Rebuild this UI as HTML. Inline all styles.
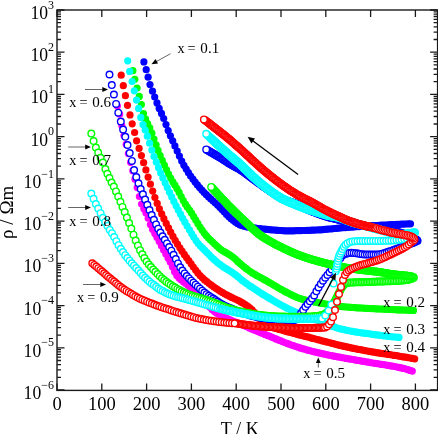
<!DOCTYPE html>
<html><head><meta charset="utf-8"><style>
html,body{margin:0;padding:0;background:#fff;width:438px;height:434px;overflow:hidden}
svg{display:block;font-family:"Liberation Serif",serif;will-change:transform}
</style></head><body>
<svg width="438" height="434" viewBox="0 0 438 434">
<rect x="57" y="10" width="380.6" height="380.4" fill="none" stroke="#1a1a1a" stroke-width="1.4"/>
<path d="M57.0 390.4v-7M57.0 10v7M101.8 390.4v-7M101.8 10v7M146.6 390.4v-7M146.6 10v7M191.4 390.4v-7M191.4 10v7M236.2 390.4v-7M236.2 10v7M281.0 390.4v-7M281.0 10v7M325.8 390.4v-7M325.8 10v7M370.6 390.4v-7M370.6 10v7M415.4 390.4v-7M415.4 10v7M57 390.0h7.5M437.6 390.0h-7.5M57 377.3h4M437.6 377.3h-4M57 369.9h4M437.6 369.9h-4M57 364.6h4M437.6 364.6h-4M57 360.5h4M437.6 360.5h-4M57 357.1h4M437.6 357.1h-4M57 354.3h4M437.6 354.3h-4M57 351.9h4M437.6 351.9h-4M57 349.7h4M437.6 349.7h-4M57 347.8h7.5M437.6 347.8h-7.5M57 335.1h4M437.6 335.1h-4M57 327.6h4M437.6 327.6h-4M57 322.4h4M437.6 322.4h-4M57 318.3h4M437.6 318.3h-4M57 314.9h4M437.6 314.9h-4M57 312.1h4M437.6 312.1h-4M57 309.6h4M437.6 309.6h-4M57 307.5h4M437.6 307.5h-4M57 305.6h7.5M437.6 305.6h-7.5M57 292.8h4M437.6 292.8h-4M57 285.4h4M437.6 285.4h-4M57 280.1h4M437.6 280.1h-4M57 276.0h4M437.6 276.0h-4M57 272.7h4M437.6 272.7h-4M57 269.9h4M437.6 269.9h-4M57 267.4h4M437.6 267.4h-4M57 265.3h4M437.6 265.3h-4M57 263.3h7.5M437.6 263.3h-7.5M57 250.6h4M437.6 250.6h-4M57 243.2h4M437.6 243.2h-4M57 237.9h4M437.6 237.9h-4M57 233.8h4M437.6 233.8h-4M57 230.5h4M437.6 230.5h-4M57 227.7h4M437.6 227.7h-4M57 225.2h4M437.6 225.2h-4M57 223.0h4M437.6 223.0h-4M57 221.1h7.5M437.6 221.1h-7.5M57 208.4h4M437.6 208.4h-4M57 201.0h4M437.6 201.0h-4M57 195.7h4M437.6 195.7h-4M57 191.6h4M437.6 191.6h-4M57 188.3h4M437.6 188.3h-4M57 185.4h4M437.6 185.4h-4M57 183.0h4M437.6 183.0h-4M57 180.8h4M437.6 180.8h-4M57 178.9h7.5M437.6 178.9h-7.5M57 166.2h4M437.6 166.2h-4M57 158.7h4M437.6 158.7h-4M57 153.5h4M437.6 153.5h-4M57 149.4h4M437.6 149.4h-4M57 146.0h4M437.6 146.0h-4M57 143.2h4M437.6 143.2h-4M57 140.8h4M437.6 140.8h-4M57 138.6h4M437.6 138.6h-4M57 136.7h7.5M437.6 136.7h-7.5M57 124.0h4M437.6 124.0h-4M57 116.5h4M437.6 116.5h-4M57 111.2h4M437.6 111.2h-4M57 107.2h4M437.6 107.2h-4M57 103.8h4M437.6 103.8h-4M57 101.0h4M437.6 101.0h-4M57 98.5h4M437.6 98.5h-4M57 96.4h4M437.6 96.4h-4M57 94.4h7.5M437.6 94.4h-7.5M57 81.7h4M437.6 81.7h-4M57 74.3h4M437.6 74.3h-4M57 69.0h4M437.6 69.0h-4M57 64.9h4M437.6 64.9h-4M57 61.6h4M437.6 61.6h-4M57 58.8h4M437.6 58.8h-4M57 56.3h4M437.6 56.3h-4M57 54.2h4M437.6 54.2h-4M57 52.2h7.5M437.6 52.2h-7.5M57 39.5h4M437.6 39.5h-4M57 32.1h4M437.6 32.1h-4M57 26.8h4M437.6 26.8h-4M57 22.7h4M437.6 22.7h-4M57 19.4h4M437.6 19.4h-4M57 16.5h4M437.6 16.5h-4M57 14.1h4M437.6 14.1h-4M57 11.9h4M437.6 11.9h-4M57 10.0h7.5M437.6 10.0h-7.5" stroke="#1a1a1a" stroke-width="1.3" fill="none"/>
<g font-size="18.5"><text x="54" y="399.0" text-anchor="end"><tspan font-size="18.3" textLength="17.6" lengthAdjust="spacingAndGlyphs">10</tspan><tspan dy="-10.4" font-size="12">−6</tspan></text><text x="54" y="356.8" text-anchor="end"><tspan font-size="18.3" textLength="17.6" lengthAdjust="spacingAndGlyphs">10</tspan><tspan dy="-10.4" font-size="12">−5</tspan></text><text x="54" y="314.6" text-anchor="end"><tspan font-size="18.3" textLength="17.6" lengthAdjust="spacingAndGlyphs">10</tspan><tspan dy="-10.4" font-size="12">−4</tspan></text><text x="54" y="272.3" text-anchor="end"><tspan font-size="18.3" textLength="17.6" lengthAdjust="spacingAndGlyphs">10</tspan><tspan dy="-10.4" font-size="12">−3</tspan></text><text x="54" y="230.1" text-anchor="end"><tspan font-size="18.3" textLength="17.6" lengthAdjust="spacingAndGlyphs">10</tspan><tspan dy="-10.4" font-size="12">−2</tspan></text><text x="54" y="187.9" text-anchor="end"><tspan font-size="18.3" textLength="17.6" lengthAdjust="spacingAndGlyphs">10</tspan><tspan dy="-10.4" font-size="12">−1</tspan></text><text x="54" y="145.7" text-anchor="end"><tspan font-size="18.3" textLength="17.6" lengthAdjust="spacingAndGlyphs">10</tspan><tspan dy="-10.4" font-size="12">0</tspan></text><text x="54" y="103.4" text-anchor="end"><tspan font-size="18.3" textLength="17.6" lengthAdjust="spacingAndGlyphs">10</tspan><tspan dy="-10.4" font-size="12">1</tspan></text><text x="54" y="61.2" text-anchor="end"><tspan font-size="18.3" textLength="17.6" lengthAdjust="spacingAndGlyphs">10</tspan><tspan dy="-10.4" font-size="12">2</tspan></text><text x="54" y="19.0" text-anchor="end"><tspan font-size="18.3" textLength="17.6" lengthAdjust="spacingAndGlyphs">10</tspan><tspan dy="-10.4" font-size="12">3</tspan></text><text x="57.0" y="409.7" text-anchor="middle">0</text><text x="101.8" y="409.7" text-anchor="middle">100</text><text x="146.6" y="409.7" text-anchor="middle">200</text><text x="191.4" y="409.7" text-anchor="middle">300</text><text x="236.2" y="409.7" text-anchor="middle">400</text><text x="281.0" y="409.7" text-anchor="middle">500</text><text x="325.8" y="409.7" text-anchor="middle">600</text><text x="370.6" y="409.7" text-anchor="middle">700</text><text x="415.4" y="409.7" text-anchor="middle">800</text></g>
<text x="239.8" y="434.6" text-anchor="middle" font-size="18.2">T / K</text>
<text transform="translate(12.6 212.3) rotate(-90)" text-anchor="middle" font-size="19">ρ / Ωm</text>
<g fill="#0000ff"><circle cx="143.9" cy="61.9" r="3.6"/><circle cx="146.2" cy="69.7" r="3.6"/><circle cx="148.1" cy="77.2" r="3.6"/><circle cx="150.0" cy="84.6" r="3.6"/><circle cx="152.5" cy="91.2" r="3.6"/><circle cx="154.7" cy="97.0" r="3.6"/><circle cx="157.0" cy="102.9" r="3.6"/><circle cx="159.2" cy="108.4" r="3.6"/><circle cx="161.5" cy="113.4" r="3.6"/><circle cx="163.7" cy="118.5" r="3.6"/><circle cx="166.0" cy="124.6" r="3.6"/><circle cx="168.2" cy="130.6" r="3.6"/><circle cx="170.4" cy="135.8" r="3.6"/><circle cx="172.7" cy="140.8" r="3.6"/><circle cx="174.9" cy="145.9" r="3.6"/><circle cx="177.2" cy="151.0" r="3.6"/><circle cx="179.4" cy="156.1" r="3.6"/><circle cx="181.7" cy="161.1" r="3.6"/><circle cx="183.9" cy="165.3" r="3.6"/><circle cx="186.2" cy="169.1" r="3.6"/><circle cx="188.4" cy="172.7" r="3.6"/><circle cx="190.6" cy="176.0" r="3.6"/><circle cx="192.9" cy="179.1" r="3.6"/><circle cx="195.1" cy="182.1" r="3.6"/><circle cx="197.4" cy="184.9" r="3.6"/><circle cx="199.6" cy="187.6" r="3.6"/><circle cx="201.9" cy="190.1" r="3.6"/><circle cx="204.1" cy="192.5" r="3.6"/><circle cx="206.3" cy="194.7" r="3.6"/><circle cx="208.6" cy="196.9" r="3.6"/><circle cx="210.8" cy="198.9" r="3.6"/><circle cx="213.1" cy="201.0" r="3.6"/><circle cx="215.3" cy="203.0" r="3.6"/><circle cx="217.6" cy="205.1" r="3.6"/><circle cx="219.8" cy="207.3" r="3.6"/><circle cx="222.0" cy="209.6" r="3.6"/><circle cx="224.3" cy="212.0" r="3.6"/><circle cx="226.5" cy="214.4" r="3.6"/><circle cx="228.8" cy="216.7" r="3.6"/><circle cx="231.0" cy="218.7" r="3.6"/><circle cx="233.3" cy="220.5" r="3.6"/><circle cx="235.5" cy="222.2" r="3.6"/><circle cx="237.8" cy="223.7" r="3.6"/><circle cx="240.0" cy="224.9" r="3.6"/><circle cx="242.2" cy="225.7" r="3.6"/><circle cx="244.5" cy="226.3" r="3.6"/><circle cx="246.7" cy="226.8" r="3.6"/><circle cx="249.0" cy="227.2" r="3.6"/><circle cx="251.2" cy="227.6" r="3.6"/><circle cx="253.5" cy="227.9" r="3.6"/><circle cx="255.7" cy="228.2" r="3.6"/><circle cx="257.9" cy="228.5" r="3.6"/><circle cx="260.2" cy="228.7" r="3.6"/><circle cx="262.4" cy="229.0" r="3.6"/><circle cx="264.7" cy="229.2" r="3.6"/><circle cx="266.9" cy="229.4" r="3.6"/><circle cx="269.2" cy="229.6" r="3.6"/><circle cx="271.4" cy="229.8" r="3.6"/><circle cx="273.6" cy="230.0" r="3.6"/><circle cx="275.9" cy="230.2" r="3.6"/><circle cx="278.1" cy="230.4" r="3.6"/><circle cx="280.4" cy="230.5" r="3.6"/><circle cx="282.6" cy="230.7" r="3.6"/><circle cx="284.9" cy="230.8" r="3.6"/><circle cx="287.1" cy="230.8" r="3.6"/><circle cx="289.4" cy="230.8" r="3.6"/><circle cx="291.6" cy="230.8" r="3.6"/><circle cx="293.8" cy="230.8" r="3.6"/><circle cx="296.1" cy="230.7" r="3.6"/><circle cx="298.3" cy="230.7" r="3.6"/><circle cx="300.6" cy="230.6" r="3.6"/><circle cx="302.8" cy="230.5" r="3.6"/><circle cx="305.1" cy="230.5" r="3.6"/><circle cx="307.3" cy="230.4" r="3.6"/><circle cx="309.5" cy="230.3" r="3.6"/><circle cx="311.8" cy="230.2" r="3.6"/><circle cx="314.0" cy="230.1" r="3.6"/><circle cx="316.3" cy="230.0" r="3.6"/><circle cx="318.5" cy="229.9" r="3.6"/><circle cx="320.8" cy="229.8" r="3.6"/><circle cx="323.0" cy="229.6" r="3.6"/><circle cx="325.2" cy="229.4" r="3.6"/><circle cx="327.5" cy="229.2" r="3.6"/><circle cx="329.7" cy="229.0" r="3.6"/><circle cx="332.0" cy="228.8" r="3.6"/><circle cx="334.2" cy="228.5" r="3.6"/><circle cx="336.5" cy="228.3" r="3.6"/><circle cx="338.7" cy="228.1" r="3.6"/><circle cx="341.0" cy="227.9" r="3.6"/><circle cx="343.2" cy="227.7" r="3.6"/><circle cx="345.4" cy="227.6" r="3.6"/><circle cx="347.7" cy="227.4" r="3.6"/><circle cx="349.9" cy="227.2" r="3.6"/><circle cx="352.2" cy="227.1" r="3.6"/><circle cx="354.4" cy="226.9" r="3.6"/><circle cx="356.7" cy="226.7" r="3.6"/><circle cx="358.9" cy="226.6" r="3.6"/><circle cx="361.1" cy="226.4" r="3.6"/><circle cx="363.4" cy="226.3" r="3.6"/><circle cx="365.6" cy="226.1" r="3.6"/><circle cx="367.9" cy="226.0" r="3.6"/><circle cx="370.1" cy="225.9" r="3.6"/><circle cx="372.4" cy="225.7" r="3.6"/><circle cx="374.6" cy="225.6" r="3.6"/><circle cx="376.8" cy="225.5" r="3.6"/><circle cx="379.1" cy="225.3" r="3.6"/><circle cx="381.3" cy="225.2" r="3.6"/><circle cx="383.6" cy="225.1" r="3.6"/><circle cx="385.8" cy="225.0" r="3.6"/><circle cx="388.1" cy="224.8" r="3.6"/><circle cx="390.3" cy="224.7" r="3.6"/><circle cx="392.6" cy="224.6" r="3.6"/><circle cx="394.8" cy="224.5" r="3.6"/><circle cx="397.0" cy="224.4" r="3.6"/><circle cx="399.3" cy="224.3" r="3.6"/><circle cx="401.5" cy="224.2" r="3.6"/><circle cx="403.8" cy="224.1" r="3.6"/><circle cx="406.0" cy="224.0" r="3.6"/><circle cx="408.3" cy="223.9" r="3.6"/><circle cx="410.5" cy="223.8" r="3.6"/></g>
<g fill="#00ff00"><circle cx="132.9" cy="70.7" r="3.6"/><circle cx="134.8" cy="79.3" r="3.6"/><circle cx="137.1" cy="88.0" r="3.6"/><circle cx="139.3" cy="96.4" r="3.6"/><circle cx="141.4" cy="104.5" r="3.6"/><circle cx="143.5" cy="113.5" r="3.6"/><circle cx="145.6" cy="119.1" r="3.6"/><circle cx="147.7" cy="123.5" r="3.6"/><circle cx="149.8" cy="127.9" r="3.6"/><circle cx="151.9" cy="133.2" r="3.6"/><circle cx="154.0" cy="139.0" r="3.6"/><circle cx="156.1" cy="144.9" r="3.6"/><circle cx="158.1" cy="150.4" r="3.6"/><circle cx="160.2" cy="155.5" r="3.6"/><circle cx="162.3" cy="160.4" r="3.6"/><circle cx="164.4" cy="165.2" r="3.6"/><circle cx="166.5" cy="169.8" r="3.6"/><circle cx="168.6" cy="174.1" r="3.6"/><circle cx="170.7" cy="178.1" r="3.6"/><circle cx="172.8" cy="181.8" r="3.6"/><circle cx="174.9" cy="185.2" r="3.6"/><circle cx="177.0" cy="188.7" r="3.6"/><circle cx="179.1" cy="192.4" r="3.6"/><circle cx="181.2" cy="196.5" r="3.6"/><circle cx="183.3" cy="200.6" r="3.6"/><circle cx="185.4" cy="204.2" r="3.6"/><circle cx="187.4" cy="207.2" r="3.6"/><circle cx="189.5" cy="210.0" r="3.6"/><circle cx="191.6" cy="213.2" r="3.6"/><circle cx="193.7" cy="216.7" r="3.6"/><circle cx="195.8" cy="220.2" r="3.6"/><circle cx="197.9" cy="223.7" r="3.6"/><circle cx="200.0" cy="227.0" r="3.6"/><circle cx="202.1" cy="230.1" r="3.6"/><circle cx="204.2" cy="233.1" r="3.6"/><circle cx="206.3" cy="235.7" r="3.6"/><circle cx="208.4" cy="238.0" r="3.6"/><circle cx="210.5" cy="240.0" r="3.6"/><circle cx="212.6" cy="242.0" r="3.6"/><circle cx="214.7" cy="244.0" r="3.6"/><circle cx="216.8" cy="246.0" r="3.6"/><circle cx="218.8" cy="247.8" r="3.6"/><circle cx="220.9" cy="249.5" r="3.6"/><circle cx="223.0" cy="251.0" r="3.6"/><circle cx="225.1" cy="252.2" r="3.6"/><circle cx="227.2" cy="253.3" r="3.6"/><circle cx="229.3" cy="254.6" r="3.6"/><circle cx="231.4" cy="256.0" r="3.6"/><circle cx="233.5" cy="257.5" r="3.6"/><circle cx="235.6" cy="259.3" r="3.6"/><circle cx="237.7" cy="261.4" r="3.6"/><circle cx="239.8" cy="263.3" r="3.6"/><circle cx="241.9" cy="265.1" r="3.6"/><circle cx="244.0" cy="266.8" r="3.6"/><circle cx="246.1" cy="268.4" r="3.6"/><circle cx="248.1" cy="270.0" r="3.6"/><circle cx="250.2" cy="271.5" r="3.6"/><circle cx="252.3" cy="272.9" r="3.6"/><circle cx="254.4" cy="274.1" r="3.6"/><circle cx="256.5" cy="275.4" r="3.6"/><circle cx="258.6" cy="276.5" r="3.6"/><circle cx="260.7" cy="277.7" r="3.6"/><circle cx="262.8" cy="278.8" r="3.6"/><circle cx="264.9" cy="279.9" r="3.6"/><circle cx="267.0" cy="281.1" r="3.6"/><circle cx="269.1" cy="282.3" r="3.6"/><circle cx="271.2" cy="283.5" r="3.6"/><circle cx="273.3" cy="284.8" r="3.6"/><circle cx="275.4" cy="286.0" r="3.6"/><circle cx="277.5" cy="287.3" r="3.6"/><circle cx="279.5" cy="288.5" r="3.6"/><circle cx="281.6" cy="289.7" r="3.6"/><circle cx="283.7" cy="290.8" r="3.6"/><circle cx="285.8" cy="291.9" r="3.6"/><circle cx="287.9" cy="293.0" r="3.6"/><circle cx="290.0" cy="294.1" r="3.6"/><circle cx="292.1" cy="295.2" r="3.6"/><circle cx="294.2" cy="296.2" r="3.6"/><circle cx="296.3" cy="297.1" r="3.6"/><circle cx="298.4" cy="298.0" r="3.6"/><circle cx="300.5" cy="298.6" r="3.6"/><circle cx="302.6" cy="299.3" r="3.6"/><circle cx="304.7" cy="299.8" r="3.6"/><circle cx="306.8" cy="300.3" r="3.6"/><circle cx="308.8" cy="300.8" r="3.6"/><circle cx="310.9" cy="301.3" r="3.6"/><circle cx="313.0" cy="301.7" r="3.6"/><circle cx="315.1" cy="302.1" r="3.6"/><circle cx="317.2" cy="302.5" r="3.6"/><circle cx="319.3" cy="302.9" r="3.6"/><circle cx="321.4" cy="303.3" r="3.6"/><circle cx="323.5" cy="303.7" r="3.6"/><circle cx="325.6" cy="304.0" r="3.6"/><circle cx="327.7" cy="304.4" r="3.6"/><circle cx="329.8" cy="304.8" r="3.6"/><circle cx="331.9" cy="305.1" r="3.6"/><circle cx="334.0" cy="305.5" r="3.6"/><circle cx="336.1" cy="305.8" r="3.6"/><circle cx="338.1" cy="306.1" r="3.6"/><circle cx="340.2" cy="306.4" r="3.6"/><circle cx="342.3" cy="306.6" r="3.6"/><circle cx="344.4" cy="306.8" r="3.6"/><circle cx="346.5" cy="307.0" r="3.6"/><circle cx="348.6" cy="307.2" r="3.6"/><circle cx="350.7" cy="307.4" r="3.6"/><circle cx="352.8" cy="307.5" r="3.6"/><circle cx="354.9" cy="307.7" r="3.6"/><circle cx="357.0" cy="307.8" r="3.6"/><circle cx="359.1" cy="307.9" r="3.6"/><circle cx="361.2" cy="308.0" r="3.6"/><circle cx="363.3" cy="308.2" r="3.6"/><circle cx="365.4" cy="308.3" r="3.6"/><circle cx="367.5" cy="308.4" r="3.6"/><circle cx="369.5" cy="308.5" r="3.6"/><circle cx="371.6" cy="308.6" r="3.6"/><circle cx="373.7" cy="308.7" r="3.6"/><circle cx="375.8" cy="308.8" r="3.6"/><circle cx="377.9" cy="308.9" r="3.6"/><circle cx="380.0" cy="309.0" r="3.6"/><circle cx="382.1" cy="309.1" r="3.6"/><circle cx="384.2" cy="309.2" r="3.6"/><circle cx="386.3" cy="309.3" r="3.6"/><circle cx="388.4" cy="309.4" r="3.6"/><circle cx="390.5" cy="309.5" r="3.6"/><circle cx="392.6" cy="309.6" r="3.6"/><circle cx="394.7" cy="309.7" r="3.6"/><circle cx="396.8" cy="309.8" r="3.6"/><circle cx="398.8" cy="309.9" r="3.6"/><circle cx="400.9" cy="309.9" r="3.6"/><circle cx="403.0" cy="310.0" r="3.6"/><circle cx="405.1" cy="310.1" r="3.6"/><circle cx="407.2" cy="310.2" r="3.6"/><circle cx="409.3" cy="310.3" r="3.6"/><circle cx="411.4" cy="310.3" r="3.6"/><circle cx="413.5" cy="310.4" r="3.6"/></g>
<g fill="#00ffff"><circle cx="127.7" cy="60.8" r="3.6"/><circle cx="129.7" cy="71.4" r="3.6"/><circle cx="132.1" cy="81.5" r="3.6"/><circle cx="134.3" cy="90.8" r="3.6"/><circle cx="136.5" cy="100.1" r="3.6"/><circle cx="138.6" cy="108.4" r="3.6"/><circle cx="140.8" cy="117.4" r="3.6"/><circle cx="143.0" cy="124.6" r="3.6"/><circle cx="145.2" cy="130.0" r="3.6"/><circle cx="147.4" cy="136.2" r="3.6"/><circle cx="149.6" cy="143.2" r="3.6"/><circle cx="151.8" cy="150.1" r="3.6"/><circle cx="154.0" cy="156.5" r="3.6"/><circle cx="156.3" cy="162.2" r="3.6"/><circle cx="158.5" cy="167.7" r="3.6"/><circle cx="160.7" cy="172.9" r="3.6"/><circle cx="162.9" cy="177.9" r="3.6"/><circle cx="165.1" cy="182.8" r="3.6"/><circle cx="167.3" cy="187.6" r="3.6"/><circle cx="169.5" cy="192.3" r="3.6"/><circle cx="171.7" cy="196.9" r="3.6"/><circle cx="173.9" cy="201.4" r="3.6"/><circle cx="176.1" cy="205.8" r="3.6"/><circle cx="178.3" cy="210.1" r="3.6"/><circle cx="180.5" cy="214.2" r="3.6"/><circle cx="182.7" cy="218.3" r="3.6"/><circle cx="184.9" cy="222.2" r="3.6"/><circle cx="187.1" cy="226.0" r="3.6"/><circle cx="189.4" cy="229.8" r="3.6"/><circle cx="191.6" cy="233.6" r="3.6"/><circle cx="193.8" cy="237.2" r="3.6"/><circle cx="196.0" cy="240.6" r="3.6"/><circle cx="198.2" cy="243.5" r="3.6"/><circle cx="200.4" cy="246.0" r="3.6"/><circle cx="202.6" cy="248.2" r="3.6"/><circle cx="204.8" cy="250.3" r="3.6"/><circle cx="207.0" cy="252.6" r="3.6"/><circle cx="209.2" cy="254.8" r="3.6"/><circle cx="211.4" cy="257.1" r="3.6"/><circle cx="213.6" cy="259.2" r="3.6"/><circle cx="215.8" cy="261.1" r="3.6"/><circle cx="218.0" cy="263.0" r="3.6"/><circle cx="220.3" cy="264.7" r="3.6"/><circle cx="222.5" cy="266.3" r="3.6"/><circle cx="224.7" cy="267.8" r="3.6"/><circle cx="226.9" cy="269.1" r="3.6"/><circle cx="229.1" cy="270.5" r="3.6"/><circle cx="231.3" cy="271.8" r="3.6"/><circle cx="233.5" cy="273.3" r="3.6"/><circle cx="235.7" cy="274.9" r="3.6"/><circle cx="237.9" cy="276.7" r="3.6"/><circle cx="240.1" cy="278.6" r="3.6"/><circle cx="242.3" cy="280.4" r="3.6"/><circle cx="244.5" cy="282.1" r="3.6"/><circle cx="246.7" cy="283.7" r="3.6"/><circle cx="248.9" cy="285.3" r="3.6"/><circle cx="251.1" cy="286.7" r="3.6"/><circle cx="253.4" cy="288.2" r="3.6"/><circle cx="255.6" cy="289.6" r="3.6"/><circle cx="257.8" cy="291.1" r="3.6"/><circle cx="260.0" cy="292.5" r="3.6"/><circle cx="262.2" cy="293.9" r="3.6"/><circle cx="264.4" cy="295.2" r="3.6"/><circle cx="266.6" cy="296.6" r="3.6"/><circle cx="268.8" cy="297.9" r="3.6"/><circle cx="271.0" cy="299.2" r="3.6"/><circle cx="273.2" cy="300.5" r="3.6"/><circle cx="275.4" cy="301.8" r="3.6"/><circle cx="277.6" cy="303.0" r="3.6"/><circle cx="279.8" cy="304.3" r="3.6"/><circle cx="282.0" cy="305.5" r="3.6"/><circle cx="284.2" cy="306.7" r="3.6"/><circle cx="286.5" cy="307.9" r="3.6"/><circle cx="288.7" cy="309.0" r="3.6"/><circle cx="290.9" cy="310.0" r="3.6"/><circle cx="293.1" cy="311.0" r="3.6"/><circle cx="295.3" cy="312.0" r="3.6"/><circle cx="297.5" cy="312.8" r="3.6"/><circle cx="299.7" cy="313.7" r="3.6"/><circle cx="301.9" cy="314.5" r="3.6"/><circle cx="304.1" cy="315.3" r="3.6"/><circle cx="306.3" cy="316.1" r="3.6"/><circle cx="308.5" cy="316.9" r="3.6"/><circle cx="310.7" cy="317.7" r="3.6"/><circle cx="312.9" cy="318.4" r="3.6"/><circle cx="315.1" cy="319.2" r="3.6"/><circle cx="317.3" cy="320.0" r="3.6"/><circle cx="319.6" cy="320.8" r="3.6"/><circle cx="321.8" cy="321.7" r="3.6"/><circle cx="324.0" cy="322.6" r="3.6"/><circle cx="326.2" cy="323.6" r="3.6"/><circle cx="328.4" cy="324.5" r="3.6"/><circle cx="330.6" cy="325.5" r="3.6"/><circle cx="332.8" cy="326.4" r="3.6"/><circle cx="335.0" cy="327.2" r="3.6"/><circle cx="337.2" cy="328.0" r="3.6"/><circle cx="339.4" cy="328.7" r="3.6"/><circle cx="341.6" cy="329.2" r="3.6"/><circle cx="343.8" cy="329.7" r="3.6"/><circle cx="346.0" cy="330.2" r="3.6"/><circle cx="348.2" cy="330.6" r="3.6"/><circle cx="350.5" cy="331.0" r="3.6"/><circle cx="352.7" cy="331.4" r="3.6"/><circle cx="354.9" cy="331.8" r="3.6"/><circle cx="357.1" cy="332.1" r="3.6"/><circle cx="359.3" cy="332.5" r="3.6"/><circle cx="361.5" cy="332.8" r="3.6"/><circle cx="363.7" cy="333.1" r="3.6"/><circle cx="365.9" cy="333.4" r="3.6"/><circle cx="368.1" cy="333.7" r="3.6"/><circle cx="370.3" cy="334.0" r="3.6"/><circle cx="372.5" cy="334.3" r="3.6"/><circle cx="374.7" cy="334.6" r="3.6"/><circle cx="376.9" cy="334.9" r="3.6"/><circle cx="379.1" cy="335.2" r="3.6"/><circle cx="381.3" cy="335.5" r="3.6"/><circle cx="383.6" cy="335.8" r="3.6"/><circle cx="385.8" cy="336.0" r="3.6"/><circle cx="388.0" cy="336.3" r="3.6"/><circle cx="390.2" cy="336.5" r="3.6"/><circle cx="392.4" cy="336.8" r="3.6"/><circle cx="394.6" cy="337.0" r="3.6"/><circle cx="396.8" cy="337.2" r="3.6"/><circle cx="399.0" cy="337.4" r="3.6"/></g>
<g fill="#ff0000"><circle cx="121.2" cy="75.2" r="3.6"/><circle cx="123.3" cy="85.7" r="3.6"/><circle cx="125.4" cy="95.7" r="3.6"/><circle cx="127.5" cy="105.3" r="3.6"/><circle cx="130.0" cy="114.9" r="3.6"/><circle cx="132.2" cy="123.8" r="3.6"/><circle cx="134.6" cy="132.5" r="3.6"/><circle cx="136.6" cy="140.8" r="3.6"/><circle cx="139.1" cy="148.4" r="3.6"/><circle cx="141.4" cy="155.6" r="3.6"/><circle cx="143.6" cy="162.7" r="3.6"/><circle cx="145.9" cy="169.9" r="3.6"/><circle cx="148.1" cy="177.1" r="3.6"/><circle cx="150.4" cy="184.2" r="3.6"/><circle cx="152.7" cy="191.1" r="3.6"/><circle cx="154.9" cy="197.5" r="3.6"/><circle cx="157.2" cy="203.4" r="3.6"/><circle cx="159.4" cy="208.8" r="3.6"/><circle cx="161.7" cy="213.9" r="3.6"/><circle cx="163.9" cy="218.7" r="3.6"/><circle cx="166.2" cy="223.4" r="3.6"/><circle cx="168.5" cy="227.8" r="3.6"/><circle cx="170.7" cy="232.2" r="3.6"/><circle cx="173.0" cy="236.4" r="3.6"/><circle cx="175.2" cy="240.4" r="3.6"/><circle cx="177.5" cy="244.2" r="3.6"/><circle cx="179.8" cy="247.8" r="3.6"/><circle cx="182.0" cy="251.2" r="3.6"/><circle cx="184.3" cy="254.4" r="3.6"/><circle cx="186.5" cy="257.6" r="3.6"/><circle cx="188.8" cy="260.7" r="3.6"/><circle cx="191.1" cy="263.8" r="3.6"/><circle cx="193.3" cy="267.0" r="3.6"/><circle cx="195.6" cy="270.1" r="3.6"/><circle cx="197.8" cy="272.9" r="3.6"/><circle cx="200.1" cy="275.6" r="3.6"/><circle cx="202.4" cy="277.8" r="3.6"/><circle cx="204.6" cy="279.9" r="3.6"/><circle cx="206.9" cy="281.7" r="3.6"/><circle cx="209.1" cy="283.5" r="3.6"/><circle cx="211.4" cy="285.2" r="3.6"/><circle cx="213.6" cy="286.8" r="3.6"/><circle cx="215.9" cy="288.3" r="3.6"/><circle cx="218.2" cy="289.8" r="3.6"/><circle cx="220.4" cy="291.3" r="3.6"/><circle cx="222.7" cy="292.7" r="3.6"/><circle cx="224.9" cy="294.0" r="3.6"/><circle cx="227.2" cy="295.2" r="3.6"/><circle cx="229.5" cy="296.3" r="3.6"/><circle cx="231.7" cy="297.4" r="3.6"/><circle cx="234.0" cy="298.5" r="3.6"/><circle cx="236.2" cy="299.5" r="3.6"/><circle cx="238.5" cy="300.7" r="3.6"/><circle cx="240.8" cy="301.9" r="3.6"/><circle cx="243.0" cy="303.2" r="3.6"/><circle cx="245.3" cy="304.6" r="3.6"/><circle cx="247.5" cy="306.1" r="3.6"/><circle cx="249.8" cy="307.8" r="3.6"/><circle cx="252.1" cy="309.8" r="3.6"/><circle cx="254.3" cy="312.4" r="3.6"/><circle cx="256.6" cy="315.7" r="3.6"/><circle cx="258.8" cy="318.5" r="3.6"/><circle cx="261.1" cy="321.1" r="3.6"/><circle cx="263.3" cy="323.3" r="3.6"/><circle cx="265.6" cy="324.8" r="3.6"/><circle cx="267.9" cy="325.9" r="3.6"/><circle cx="270.1" cy="326.7" r="3.6"/><circle cx="272.4" cy="327.5" r="3.6"/><circle cx="274.6" cy="328.1" r="3.6"/><circle cx="276.9" cy="328.7" r="3.6"/><circle cx="279.2" cy="329.4" r="3.6"/><circle cx="281.4" cy="330.0" r="3.6"/><circle cx="283.7" cy="330.7" r="3.6"/><circle cx="285.9" cy="331.3" r="3.6"/><circle cx="288.2" cy="331.9" r="3.6"/><circle cx="290.5" cy="332.5" r="3.6"/><circle cx="292.7" cy="333.1" r="3.6"/><circle cx="295.0" cy="333.7" r="3.6"/><circle cx="297.2" cy="334.3" r="3.6"/><circle cx="299.5" cy="334.9" r="3.6"/><circle cx="301.7" cy="335.5" r="3.6"/><circle cx="304.0" cy="336.1" r="3.6"/><circle cx="306.3" cy="336.7" r="3.6"/><circle cx="308.5" cy="337.2" r="3.6"/><circle cx="310.8" cy="337.8" r="3.6"/><circle cx="313.0" cy="338.4" r="3.6"/><circle cx="315.3" cy="339.0" r="3.6"/><circle cx="317.6" cy="339.6" r="3.6"/><circle cx="319.8" cy="340.2" r="3.6"/><circle cx="322.1" cy="340.8" r="3.6"/><circle cx="324.3" cy="341.3" r="3.6"/><circle cx="326.6" cy="341.9" r="3.6"/><circle cx="328.9" cy="342.5" r="3.6"/><circle cx="331.1" cy="343.1" r="3.6"/><circle cx="333.4" cy="343.7" r="3.6"/><circle cx="335.6" cy="344.3" r="3.6"/><circle cx="337.9" cy="344.8" r="3.6"/><circle cx="340.2" cy="345.4" r="3.6"/><circle cx="342.4" cy="345.9" r="3.6"/><circle cx="344.7" cy="346.4" r="3.6"/><circle cx="346.9" cy="346.9" r="3.6"/><circle cx="349.2" cy="347.4" r="3.6"/><circle cx="351.4" cy="347.9" r="3.6"/><circle cx="353.7" cy="348.4" r="3.6"/><circle cx="356.0" cy="348.8" r="3.6"/><circle cx="358.2" cy="349.3" r="3.6"/><circle cx="360.5" cy="349.7" r="3.6"/><circle cx="362.7" cy="350.2" r="3.6"/><circle cx="365.0" cy="350.6" r="3.6"/><circle cx="367.3" cy="351.0" r="3.6"/><circle cx="369.5" cy="351.4" r="3.6"/><circle cx="371.8" cy="351.8" r="3.6"/><circle cx="374.0" cy="352.2" r="3.6"/><circle cx="376.3" cy="352.6" r="3.6"/><circle cx="378.6" cy="352.9" r="3.6"/><circle cx="380.8" cy="353.3" r="3.6"/><circle cx="383.1" cy="353.7" r="3.6"/><circle cx="385.3" cy="354.0" r="3.6"/><circle cx="387.6" cy="354.3" r="3.6"/><circle cx="389.9" cy="354.7" r="3.6"/><circle cx="392.1" cy="355.0" r="3.6"/><circle cx="394.4" cy="355.4" r="3.6"/><circle cx="396.6" cy="355.7" r="3.6"/><circle cx="398.9" cy="356.1" r="3.6"/><circle cx="401.1" cy="356.5" r="3.6"/><circle cx="403.4" cy="356.9" r="3.6"/><circle cx="405.7" cy="357.2" r="3.6"/><circle cx="407.9" cy="357.6" r="3.6"/><circle cx="410.2" cy="358.0" r="3.6"/><circle cx="412.4" cy="358.4" r="3.6"/><circle cx="414.7" cy="358.8" r="3.6"/></g>
<g fill="#ff00ff"><circle cx="117.4" cy="106.0" r="3.6"/><circle cx="119.6" cy="114.2" r="3.6"/><circle cx="121.8" cy="125.5" r="3.6"/><circle cx="124.0" cy="135.6" r="3.6"/><circle cx="126.2" cy="144.4" r="3.6"/><circle cx="128.4" cy="153.6" r="3.6"/><circle cx="130.6" cy="162.3" r="3.6"/><circle cx="132.8" cy="170.8" r="3.6"/><circle cx="135.0" cy="179.2" r="3.6"/><circle cx="137.2" cy="187.6" r="3.6"/><circle cx="139.4" cy="196.5" r="3.6"/><circle cx="141.6" cy="204.0" r="3.6"/><circle cx="143.8" cy="208.8" r="3.6"/><circle cx="146.0" cy="212.9" r="3.6"/><circle cx="148.2" cy="218.2" r="3.6"/><circle cx="150.4" cy="224.6" r="3.6"/><circle cx="152.6" cy="229.4" r="3.6"/><circle cx="154.8" cy="233.6" r="3.6"/><circle cx="157.0" cy="237.4" r="3.6"/><circle cx="159.2" cy="241.5" r="3.6"/><circle cx="161.4" cy="245.7" r="3.6"/><circle cx="163.6" cy="249.9" r="3.6"/><circle cx="165.8" cy="254.0" r="3.6"/><circle cx="168.0" cy="257.9" r="3.6"/><circle cx="170.2" cy="261.9" r="3.6"/><circle cx="172.4" cy="266.8" r="3.6"/><circle cx="174.6" cy="271.8" r="3.6"/><circle cx="176.8" cy="275.4" r="3.6"/><circle cx="179.0" cy="277.9" r="3.6"/><circle cx="181.2" cy="280.0" r="3.6"/><circle cx="183.4" cy="281.8" r="3.6"/><circle cx="185.6" cy="283.5" r="3.6"/><circle cx="187.8" cy="285.3" r="3.6"/><circle cx="190.0" cy="287.1" r="3.6"/><circle cx="192.2" cy="288.9" r="3.6"/><circle cx="194.4" cy="290.7" r="3.6"/><circle cx="196.6" cy="292.7" r="3.6"/><circle cx="198.8" cy="294.9" r="3.6"/><circle cx="201.0" cy="297.3" r="3.6"/><circle cx="203.2" cy="299.8" r="3.6"/><circle cx="205.4" cy="302.3" r="3.6"/><circle cx="207.6" cy="304.8" r="3.6"/><circle cx="209.8" cy="307.2" r="3.6"/><circle cx="212.0" cy="309.4" r="3.6"/><circle cx="214.2" cy="311.3" r="3.6"/><circle cx="216.4" cy="312.9" r="3.6"/><circle cx="218.6" cy="314.2" r="3.6"/><circle cx="220.8" cy="315.5" r="3.6"/><circle cx="223.0" cy="316.6" r="3.6"/><circle cx="225.2" cy="317.7" r="3.6"/><circle cx="227.4" cy="318.7" r="3.6"/><circle cx="229.6" cy="319.7" r="3.6"/><circle cx="231.8" cy="320.6" r="3.6"/><circle cx="234.0" cy="321.5" r="3.6"/><circle cx="236.2" cy="322.4" r="3.6"/><circle cx="238.4" cy="323.3" r="3.6"/><circle cx="240.6" cy="324.2" r="3.6"/><circle cx="242.8" cy="325.1" r="3.6"/><circle cx="245.0" cy="326.0" r="3.6"/><circle cx="247.2" cy="327.0" r="3.6"/><circle cx="249.4" cy="327.9" r="3.6"/><circle cx="251.6" cy="328.9" r="3.6"/><circle cx="253.8" cy="329.8" r="3.6"/><circle cx="256.0" cy="330.7" r="3.6"/><circle cx="258.2" cy="331.7" r="3.6"/><circle cx="260.4" cy="332.6" r="3.6"/><circle cx="262.6" cy="333.5" r="3.6"/><circle cx="264.9" cy="334.4" r="3.6"/><circle cx="267.1" cy="335.3" r="3.6"/><circle cx="269.3" cy="336.2" r="3.6"/><circle cx="271.5" cy="337.1" r="3.6"/><circle cx="273.7" cy="338.0" r="3.6"/><circle cx="275.9" cy="338.9" r="3.6"/><circle cx="278.1" cy="339.8" r="3.6"/><circle cx="280.3" cy="340.7" r="3.6"/><circle cx="282.5" cy="341.6" r="3.6"/><circle cx="284.7" cy="342.5" r="3.6"/><circle cx="286.9" cy="343.3" r="3.6"/><circle cx="289.1" cy="344.2" r="3.6"/><circle cx="291.3" cy="345.0" r="3.6"/><circle cx="293.5" cy="345.7" r="3.6"/><circle cx="295.7" cy="346.5" r="3.6"/><circle cx="297.9" cy="347.2" r="3.6"/><circle cx="300.1" cy="347.9" r="3.6"/><circle cx="302.3" cy="348.6" r="3.6"/><circle cx="304.5" cy="349.2" r="3.6"/><circle cx="306.7" cy="349.8" r="3.6"/><circle cx="308.9" cy="350.4" r="3.6"/><circle cx="311.1" cy="351.0" r="3.6"/><circle cx="313.3" cy="351.6" r="3.6"/><circle cx="315.5" cy="352.1" r="3.6"/><circle cx="317.7" cy="352.6" r="3.6"/><circle cx="319.9" cy="353.1" r="3.6"/><circle cx="322.1" cy="353.6" r="3.6"/><circle cx="324.3" cy="354.1" r="3.6"/><circle cx="326.5" cy="354.6" r="3.6"/><circle cx="328.7" cy="355.1" r="3.6"/><circle cx="330.9" cy="355.5" r="3.6"/><circle cx="333.1" cy="355.9" r="3.6"/><circle cx="335.3" cy="356.4" r="3.6"/><circle cx="337.5" cy="356.8" r="3.6"/><circle cx="339.7" cy="357.2" r="3.6"/><circle cx="341.9" cy="357.6" r="3.6"/><circle cx="344.1" cy="358.0" r="3.6"/><circle cx="346.3" cy="358.4" r="3.6"/><circle cx="348.5" cy="358.8" r="3.6"/><circle cx="350.7" cy="359.2" r="3.6"/><circle cx="352.9" cy="359.5" r="3.6"/><circle cx="355.1" cy="359.9" r="3.6"/><circle cx="357.3" cy="360.3" r="3.6"/><circle cx="359.5" cy="360.7" r="3.6"/><circle cx="361.7" cy="361.1" r="3.6"/><circle cx="363.9" cy="361.4" r="3.6"/><circle cx="366.1" cy="361.8" r="3.6"/><circle cx="368.3" cy="362.2" r="3.6"/><circle cx="370.5" cy="362.6" r="3.6"/><circle cx="372.7" cy="363.0" r="3.6"/><circle cx="374.9" cy="363.3" r="3.6"/><circle cx="377.1" cy="363.7" r="3.6"/><circle cx="379.3" cy="364.0" r="3.6"/><circle cx="381.5" cy="364.4" r="3.6"/><circle cx="383.7" cy="364.7" r="3.6"/><circle cx="385.9" cy="365.0" r="3.6"/><circle cx="388.1" cy="365.4" r="3.6"/><circle cx="390.3" cy="365.8" r="3.6"/><circle cx="392.5" cy="366.1" r="3.6"/><circle cx="394.7" cy="366.5" r="3.6"/><circle cx="396.9" cy="367.0" r="3.6"/><circle cx="399.1" cy="367.4" r="3.6"/><circle cx="401.3" cy="367.9" r="3.6"/><circle cx="403.5" cy="368.4" r="3.6"/><circle cx="405.7" cy="369.0" r="3.6"/><circle cx="407.9" cy="369.7" r="3.6"/><circle cx="410.1" cy="370.4" r="3.6"/><circle cx="412.3" cy="371.1" r="3.6"/></g>
<g fill="#fff" stroke="#0000ff" stroke-width="1.4"><circle cx="109.5" cy="74.5" r="3.3"/><circle cx="111.8" cy="85.1" r="3.3"/><circle cx="113.9" cy="94.5" r="3.3"/><circle cx="116.1" cy="103.9" r="3.3"/><circle cx="118.3" cy="112.7" r="3.3"/><circle cx="120.8" cy="121.5" r="3.3"/><circle cx="123.1" cy="129.6" r="3.3"/><circle cx="125.3" cy="136.8" r="3.3"/><circle cx="127.5" cy="145.0" r="3.3"/><circle cx="129.7" cy="153.1" r="3.3"/><circle cx="131.9" cy="160.9" r="3.3"/><circle cx="134.1" cy="170.0" r="3.3"/><circle cx="136.3" cy="177.1" r="3.3"/><circle cx="138.5" cy="183.3" r="3.3"/><circle cx="140.7" cy="189.0" r="3.3"/><circle cx="142.9" cy="194.3" r="3.3"/><circle cx="145.1" cy="199.5" r="3.3"/><circle cx="147.3" cy="204.8" r="3.3"/><circle cx="149.5" cy="210.0" r="3.3"/><circle cx="151.7" cy="215.0" r="3.3"/><circle cx="153.9" cy="219.8" r="3.3"/><circle cx="156.1" cy="224.4" r="3.3"/><circle cx="158.2" cy="228.7" r="3.3"/><circle cx="160.4" cy="232.5" r="3.3"/><circle cx="162.6" cy="236.3" r="3.3"/><circle cx="164.8" cy="239.8" r="3.3"/><circle cx="167.0" cy="243.4" r="3.3"/><circle cx="169.2" cy="247.0" r="3.3"/><circle cx="171.4" cy="250.7" r="3.3"/><circle cx="173.6" cy="254.8" r="3.3"/><circle cx="175.8" cy="259.1" r="3.3"/><circle cx="178.0" cy="263.4" r="3.3"/><circle cx="180.2" cy="267.3" r="3.3"/><circle cx="182.4" cy="270.5" r="3.3"/><circle cx="184.6" cy="273.4" r="3.3"/><circle cx="186.8" cy="276.0" r="3.3"/><circle cx="189.0" cy="278.4" r="3.3"/><circle cx="191.2" cy="280.7" r="3.3"/><circle cx="193.4" cy="282.7" r="3.3"/><circle cx="195.6" cy="284.7" r="3.3"/><circle cx="197.8" cy="286.7" r="3.3"/><circle cx="200.0" cy="288.7" r="3.3"/><circle cx="202.2" cy="290.7" r="3.3"/><circle cx="204.4" cy="292.5" r="3.3"/><circle cx="206.6" cy="294.2" r="3.3"/><circle cx="208.8" cy="295.8" r="3.3"/><circle cx="211.0" cy="297.2" r="3.3"/><circle cx="213.2" cy="298.6" r="3.3"/><circle cx="215.3" cy="300.0" r="3.3"/><circle cx="217.5" cy="301.5" r="3.3"/><circle cx="219.7" cy="303.0" r="3.3"/><circle cx="221.9" cy="304.3" r="3.3"/><circle cx="224.1" cy="305.4" r="3.3"/><circle cx="226.3" cy="306.4" r="3.3"/><circle cx="228.5" cy="307.4" r="3.3"/><circle cx="230.7" cy="308.3" r="3.3"/><circle cx="232.9" cy="309.2" r="3.3"/><circle cx="235.1" cy="310.2" r="3.3"/><circle cx="237.3" cy="311.1" r="3.3"/><circle cx="239.5" cy="311.9" r="3.3"/><circle cx="241.7" cy="312.7" r="3.3"/><circle cx="243.9" cy="313.5" r="3.3"/><circle cx="246.1" cy="314.1" r="3.3"/><circle cx="248.3" cy="314.8" r="3.3"/><circle cx="250.5" cy="315.4" r="3.3"/><circle cx="252.7" cy="316.0" r="3.3"/><circle cx="254.9" cy="316.5" r="3.3"/><circle cx="257.1" cy="317.0" r="3.3"/><circle cx="259.3" cy="317.5" r="3.3"/><circle cx="261.5" cy="317.9" r="3.3"/><circle cx="263.7" cy="318.3" r="3.3"/><circle cx="265.9" cy="318.6" r="3.3"/><circle cx="268.1" cy="318.9" r="3.3"/><circle cx="270.3" cy="319.2" r="3.3"/><circle cx="272.4" cy="319.5" r="3.3"/><circle cx="274.6" cy="319.7" r="3.3"/><circle cx="276.8" cy="319.9" r="3.3"/><circle cx="279.0" cy="320.0" r="3.3"/><circle cx="281.2" cy="320.0" r="3.3"/><circle cx="283.4" cy="320.0" r="3.3"/><circle cx="285.6" cy="320.0" r="3.3"/><circle cx="287.8" cy="320.0" r="3.3"/><circle cx="290.0" cy="320.0" r="3.3"/><circle cx="292.2" cy="320.0" r="3.3"/><circle cx="294.4" cy="320.0" r="3.3"/><circle cx="296.6" cy="319.2" r="3.3"/><circle cx="298.8" cy="316.4" r="3.3"/><circle cx="301.0" cy="313.3" r="3.3"/><circle cx="303.2" cy="309.9" r="3.3"/><circle cx="305.4" cy="306.8" r="3.3"/><circle cx="307.6" cy="304.1" r="3.3"/><circle cx="309.8" cy="301.3" r="3.3"/><circle cx="312.0" cy="298.6" r="3.3"/><circle cx="314.2" cy="295.4" r="3.3"/><circle cx="316.4" cy="291.3" r="3.3"/><circle cx="318.6" cy="287.5" r="3.3"/><circle cx="320.8" cy="283.9" r="3.3"/><circle cx="323.0" cy="280.7" r="3.3"/><circle cx="325.2" cy="277.7" r="3.3"/><circle cx="327.4" cy="274.9" r="3.3"/><circle cx="329.6" cy="272.3" r="3.3"/><circle cx="331.7" cy="269.5" r="3.3"/><circle cx="333.9" cy="266.6" r="3.3"/><circle cx="336.1" cy="263.7" r="3.3"/><circle cx="338.3" cy="260.9" r="3.3"/><circle cx="340.5" cy="257.9" r="3.3"/><circle cx="342.7" cy="255.3" r="3.3"/><circle cx="344.9" cy="254.1" r="3.3"/><circle cx="347.1" cy="253.4" r="3.3"/><circle cx="349.3" cy="252.9" r="3.3"/><circle cx="351.5" cy="252.8" r="3.3"/><circle cx="353.7" cy="252.9" r="3.3"/><circle cx="355.9" cy="253.2" r="3.3"/><circle cx="358.1" cy="253.5" r="3.3"/><circle cx="360.3" cy="253.9" r="3.3"/><circle cx="362.5" cy="254.2" r="3.3"/><circle cx="364.7" cy="254.5" r="3.3"/><circle cx="366.9" cy="254.6" r="3.3"/><circle cx="369.1" cy="254.6" r="3.3"/><circle cx="371.3" cy="254.6" r="3.3"/><circle cx="373.5" cy="254.6" r="3.3"/><circle cx="375.7" cy="254.6" r="3.3"/><circle cx="377.9" cy="254.6" r="3.3"/><circle cx="380.1" cy="254.2" r="3.3"/><circle cx="382.3" cy="253.7" r="3.3"/><circle cx="384.5" cy="253.0" r="3.3"/><circle cx="386.7" cy="252.3" r="3.3"/><circle cx="388.8" cy="251.6" r="3.3"/><circle cx="391.0" cy="250.9" r="3.3"/><circle cx="393.2" cy="250.1" r="3.3"/><circle cx="395.4" cy="249.3" r="3.3"/><circle cx="397.6" cy="248.5" r="3.3"/><circle cx="399.8" cy="247.7" r="3.3"/><circle cx="402.0" cy="246.9" r="3.3"/><circle cx="404.2" cy="246.1" r="3.3"/><circle cx="406.4" cy="245.3" r="3.3"/><circle cx="408.6" cy="244.6" r="3.3"/><circle cx="410.8" cy="243.8" r="3.3"/><circle cx="413.0" cy="242.9" r="3.3"/><circle cx="415.2" cy="241.9" r="3.3"/><circle cx="417.4" cy="240.8" r="3.3"/><circle cx="417.4" cy="240.8" r="3.3"/><circle cx="416.7" cy="240.1" r="3.3"/><circle cx="415.9" cy="239.3" r="3.3"/><circle cx="415.2" cy="238.7" r="3.3"/><circle cx="414.4" cy="238.0" r="3.3"/><circle cx="413.6" cy="237.4" r="3.3"/><circle cx="412.8" cy="236.9" r="3.3"/><circle cx="411.9" cy="236.5" r="3.3"/><circle cx="411.0" cy="236.0" r="3.3"/><circle cx="410.1" cy="235.7" r="3.3"/><circle cx="409.2" cy="235.3" r="3.3"/><circle cx="408.2" cy="235.0" r="3.3"/><circle cx="407.2" cy="234.7" r="3.3"/><circle cx="406.3" cy="234.4" r="3.3"/><circle cx="405.3" cy="234.1" r="3.3"/><circle cx="404.3" cy="233.8" r="3.3"/><circle cx="403.4" cy="233.5" r="3.3"/><circle cx="402.4" cy="233.3" r="3.3"/><circle cx="401.5" cy="233.0" r="3.3"/><circle cx="400.5" cy="232.7" r="3.3"/><circle cx="399.5" cy="232.5" r="3.3"/><circle cx="398.6" cy="232.2" r="3.3"/><circle cx="397.6" cy="232.0" r="3.3"/><circle cx="396.6" cy="231.8" r="3.3"/><circle cx="395.6" cy="231.5" r="3.3"/><circle cx="394.6" cy="231.3" r="3.3"/><circle cx="393.7" cy="231.1" r="3.3"/><circle cx="392.7" cy="230.9" r="3.3"/><circle cx="391.7" cy="230.7" r="3.3"/><circle cx="390.7" cy="230.4" r="3.3"/><circle cx="389.7" cy="230.2" r="3.3"/><circle cx="388.8" cy="230.0" r="3.3"/><circle cx="387.8" cy="229.8" r="3.3"/><circle cx="386.8" cy="229.7" r="3.3"/><circle cx="385.8" cy="229.5" r="3.3"/><circle cx="384.8" cy="229.3" r="3.3"/><circle cx="383.9" cy="229.1" r="3.3"/><circle cx="382.9" cy="228.9" r="3.3"/><circle cx="381.9" cy="228.8" r="3.3"/><circle cx="380.9" cy="228.6" r="3.3"/><circle cx="379.9" cy="228.5" r="3.3"/><circle cx="378.9" cy="228.3" r="3.3"/><circle cx="377.9" cy="228.2" r="3.3"/><circle cx="376.9" cy="228.1" r="3.3"/><circle cx="375.9" cy="227.9" r="3.3"/><circle cx="374.9" cy="227.8" r="3.3"/><circle cx="373.9" cy="227.6" r="3.3"/><circle cx="372.9" cy="227.5" r="3.3"/><circle cx="372.0" cy="227.3" r="3.3"/><circle cx="371.0" cy="227.2" r="3.3"/><circle cx="370.0" cy="227.0" r="3.3"/><circle cx="369.0" cy="226.9" r="3.3"/><circle cx="368.0" cy="226.7" r="3.3"/><circle cx="367.0" cy="226.5" r="3.3"/><circle cx="366.0" cy="226.3" r="3.3"/><circle cx="365.1" cy="226.1" r="3.3"/><circle cx="364.1" cy="225.9" r="3.3"/><circle cx="363.1" cy="225.7" r="3.3"/><circle cx="362.1" cy="225.5" r="3.3"/><circle cx="361.2" cy="225.3" r="3.3"/><circle cx="360.2" cy="225.0" r="3.3"/><circle cx="359.2" cy="224.8" r="3.3"/><circle cx="358.2" cy="224.5" r="3.3"/><circle cx="357.3" cy="224.3" r="3.3"/><circle cx="356.3" cy="224.1" r="3.3"/><circle cx="355.3" cy="223.8" r="3.3"/><circle cx="354.3" cy="223.6" r="3.3"/><circle cx="353.4" cy="223.3" r="3.3"/><circle cx="352.4" cy="223.1" r="3.3"/><circle cx="351.4" cy="222.8" r="3.3"/><circle cx="350.5" cy="222.6" r="3.3"/><circle cx="349.5" cy="222.4" r="3.3"/><circle cx="348.5" cy="222.1" r="3.3"/><circle cx="347.5" cy="221.9" r="3.3"/><circle cx="346.6" cy="221.6" r="3.3"/><circle cx="345.6" cy="221.4" r="3.3"/><circle cx="344.6" cy="221.2" r="3.3"/><circle cx="343.7" cy="220.9" r="3.3"/><circle cx="342.7" cy="220.7" r="3.3"/><circle cx="341.7" cy="220.4" r="3.3"/><circle cx="340.7" cy="220.2" r="3.3"/><circle cx="339.8" cy="219.9" r="3.3"/><circle cx="338.8" cy="219.7" r="3.3"/><circle cx="337.8" cy="219.5" r="3.3"/><circle cx="336.8" cy="219.2" r="3.3"/><circle cx="335.9" cy="219.0" r="3.3"/><circle cx="334.9" cy="218.8" r="3.3"/><circle cx="333.9" cy="218.6" r="3.3"/><circle cx="332.9" cy="218.3" r="3.3"/><circle cx="332.0" cy="218.1" r="3.3"/><circle cx="331.0" cy="217.9" r="3.3"/><circle cx="330.0" cy="217.6" r="3.3"/><circle cx="329.1" cy="217.4" r="3.3"/><circle cx="328.1" cy="217.1" r="3.3"/><circle cx="327.1" cy="216.8" r="3.3"/><circle cx="326.2" cy="216.5" r="3.3"/><circle cx="325.2" cy="216.2" r="3.3"/><circle cx="324.3" cy="215.9" r="3.3"/><circle cx="323.3" cy="215.6" r="3.3"/><circle cx="322.4" cy="215.2" r="3.3"/><circle cx="321.4" cy="214.9" r="3.3"/><circle cx="320.5" cy="214.6" r="3.3"/><circle cx="319.6" cy="214.2" r="3.3"/><circle cx="318.6" cy="213.9" r="3.3"/><circle cx="317.7" cy="213.5" r="3.3"/><circle cx="316.7" cy="213.2" r="3.3"/><circle cx="315.8" cy="212.8" r="3.3"/><circle cx="314.9" cy="212.4" r="3.3"/><circle cx="313.9" cy="212.1" r="3.3"/><circle cx="313.0" cy="211.7" r="3.3"/><circle cx="312.0" cy="211.4" r="3.3"/><circle cx="311.1" cy="211.0" r="3.3"/><circle cx="310.2" cy="210.7" r="3.3"/><circle cx="309.2" cy="210.3" r="3.3"/><circle cx="308.3" cy="209.9" r="3.3"/><circle cx="307.4" cy="209.6" r="3.3"/><circle cx="306.5" cy="209.2" r="3.3"/><circle cx="305.6" cy="208.8" r="3.3"/><circle cx="304.6" cy="208.3" r="3.3"/><circle cx="303.8" cy="207.9" r="3.3"/><circle cx="302.9" cy="207.4" r="3.3"/><circle cx="302.0" cy="206.9" r="3.3"/><circle cx="301.1" cy="206.4" r="3.3"/><circle cx="300.3" cy="205.9" r="3.3"/><circle cx="299.4" cy="205.4" r="3.3"/><circle cx="298.5" cy="204.9" r="3.3"/><circle cx="297.6" cy="204.5" r="3.3"/><circle cx="296.7" cy="204.1" r="3.3"/><circle cx="295.8" cy="203.7" r="3.3"/><circle cx="294.8" cy="203.4" r="3.3"/><circle cx="293.9" cy="203.0" r="3.3"/><circle cx="292.9" cy="202.7" r="3.3"/><circle cx="292.0" cy="202.4" r="3.3"/><circle cx="291.0" cy="202.1" r="3.3"/><circle cx="290.1" cy="201.8" r="3.3"/><circle cx="289.1" cy="201.4" r="3.3"/><circle cx="288.1" cy="201.1" r="3.3"/><circle cx="287.2" cy="200.8" r="3.3"/><circle cx="286.3" cy="200.5" r="3.3"/><circle cx="285.3" cy="200.1" r="3.3"/><circle cx="284.4" cy="199.7" r="3.3"/><circle cx="283.5" cy="199.4" r="3.3"/><circle cx="282.6" cy="198.9" r="3.3"/><circle cx="281.7" cy="198.5" r="3.3"/><circle cx="280.8" cy="198.0" r="3.3"/><circle cx="280.0" cy="197.6" r="3.3"/><circle cx="279.1" cy="197.1" r="3.3"/><circle cx="278.2" cy="196.5" r="3.3"/><circle cx="277.4" cy="196.0" r="3.3"/><circle cx="276.5" cy="195.5" r="3.3"/><circle cx="275.7" cy="194.9" r="3.3"/><circle cx="274.9" cy="194.3" r="3.3"/><circle cx="274.0" cy="193.8" r="3.3"/><circle cx="273.2" cy="193.2" r="3.3"/><circle cx="272.4" cy="192.6" r="3.3"/><circle cx="271.5" cy="192.0" r="3.3"/><circle cx="270.7" cy="191.5" r="3.3"/><circle cx="269.9" cy="190.9" r="3.3"/><circle cx="269.1" cy="190.4" r="3.3"/><circle cx="268.2" cy="189.8" r="3.3"/><circle cx="267.4" cy="189.2" r="3.3"/><circle cx="266.6" cy="188.7" r="3.3"/><circle cx="265.8" cy="188.1" r="3.3"/><circle cx="264.9" cy="187.5" r="3.3"/><circle cx="264.1" cy="186.9" r="3.3"/><circle cx="263.3" cy="186.4" r="3.3"/><circle cx="262.5" cy="185.8" r="3.3"/><circle cx="261.7" cy="185.2" r="3.3"/><circle cx="260.9" cy="184.6" r="3.3"/><circle cx="260.0" cy="184.0" r="3.3"/><circle cx="259.2" cy="183.4" r="3.3"/><circle cx="258.4" cy="182.9" r="3.3"/><circle cx="257.6" cy="182.3" r="3.3"/><circle cx="256.8" cy="181.7" r="3.3"/><circle cx="256.0" cy="181.1" r="3.3"/><circle cx="255.2" cy="180.5" r="3.3"/><circle cx="254.4" cy="179.9" r="3.3"/><circle cx="253.5" cy="179.3" r="3.3"/><circle cx="252.7" cy="178.7" r="3.3"/><circle cx="251.9" cy="178.1" r="3.3"/><circle cx="251.1" cy="177.5" r="3.3"/><circle cx="250.3" cy="176.9" r="3.3"/><circle cx="249.5" cy="176.3" r="3.3"/><circle cx="248.7" cy="175.7" r="3.3"/><circle cx="247.9" cy="175.1" r="3.3"/><circle cx="247.1" cy="174.5" r="3.3"/><circle cx="246.3" cy="173.9" r="3.3"/><circle cx="245.5" cy="173.3" r="3.3"/><circle cx="244.7" cy="172.7" r="3.3"/><circle cx="243.9" cy="172.1" r="3.3"/><circle cx="243.1" cy="171.5" r="3.3"/><circle cx="242.3" cy="171.0" r="3.3"/><circle cx="241.4" cy="170.4" r="3.3"/><circle cx="240.6" cy="169.9" r="3.3"/><circle cx="239.8" cy="169.4" r="3.3"/><circle cx="238.9" cy="168.8" r="3.3"/><circle cx="238.0" cy="168.3" r="3.3"/><circle cx="237.2" cy="167.9" r="3.3"/><circle cx="236.3" cy="167.4" r="3.3"/><circle cx="235.4" cy="166.9" r="3.3"/><circle cx="234.5" cy="166.4" r="3.3"/><circle cx="233.6" cy="166.0" r="3.3"/><circle cx="232.7" cy="165.5" r="3.3"/><circle cx="231.9" cy="165.0" r="3.3"/><circle cx="231.0" cy="164.5" r="3.3"/><circle cx="230.1" cy="164.0" r="3.3"/><circle cx="229.3" cy="163.5" r="3.3"/><circle cx="228.4" cy="162.9" r="3.3"/><circle cx="227.6" cy="162.4" r="3.3"/><circle cx="226.8" cy="161.8" r="3.3"/><circle cx="225.9" cy="161.3" r="3.3"/><circle cx="225.1" cy="160.7" r="3.3"/><circle cx="224.2" cy="160.2" r="3.3"/><circle cx="223.4" cy="159.7" r="3.3"/><circle cx="222.5" cy="159.1" r="3.3"/><circle cx="221.7" cy="158.6" r="3.3"/><circle cx="220.8" cy="158.1" r="3.3"/><circle cx="220.0" cy="157.6" r="3.3"/><circle cx="219.1" cy="157.1" r="3.3"/><circle cx="218.2" cy="156.6" r="3.3"/><circle cx="217.4" cy="156.1" r="3.3"/><circle cx="216.5" cy="155.6" r="3.3"/><circle cx="215.6" cy="155.1" r="3.3"/><circle cx="214.8" cy="154.6" r="3.3"/><circle cx="213.9" cy="154.1" r="3.3"/><circle cx="213.1" cy="153.6" r="3.3"/><circle cx="212.2" cy="153.0" r="3.3"/><circle cx="211.3" cy="152.5" r="3.3"/><circle cx="210.5" cy="152.0" r="3.3"/><circle cx="209.6" cy="151.5" r="3.3"/><circle cx="208.8" cy="151.0" r="3.3"/><circle cx="207.9" cy="150.4" r="3.3"/><circle cx="207.1" cy="149.9" r="3.3"/><circle cx="206.2" cy="149.4" r="3.3"/></g>
<g fill="#fff" stroke="#00ff00" stroke-width="1.4"><circle cx="91.3" cy="133.6" r="3.3"/><circle cx="93.6" cy="141.1" r="3.3"/><circle cx="95.9" cy="147.5" r="3.3"/><circle cx="98.2" cy="152.6" r="3.3"/><circle cx="100.6" cy="157.8" r="3.3"/><circle cx="102.9" cy="162.6" r="3.3"/><circle cx="105.4" cy="169.0" r="3.3"/><circle cx="107.4" cy="173.8" r="3.3"/><circle cx="109.5" cy="178.0" r="3.3"/><circle cx="111.6" cy="182.5" r="3.3"/><circle cx="113.8" cy="186.6" r="3.3"/><circle cx="116.0" cy="191.4" r="3.3"/><circle cx="118.2" cy="196.6" r="3.3"/><circle cx="120.4" cy="201.8" r="3.3"/><circle cx="122.5" cy="206.9" r="3.3"/><circle cx="124.7" cy="212.1" r="3.3"/><circle cx="126.9" cy="217.5" r="3.3"/><circle cx="129.1" cy="223.0" r="3.3"/><circle cx="131.3" cy="228.6" r="3.3"/><circle cx="133.5" cy="234.7" r="3.3"/><circle cx="135.7" cy="240.5" r="3.3"/><circle cx="137.9" cy="245.6" r="3.3"/><circle cx="140.1" cy="250.2" r="3.3"/><circle cx="142.3" cy="254.3" r="3.3"/><circle cx="144.4" cy="258.1" r="3.3"/><circle cx="146.6" cy="261.5" r="3.3"/><circle cx="148.8" cy="264.5" r="3.3"/><circle cx="151.0" cy="267.1" r="3.3"/><circle cx="153.2" cy="269.5" r="3.3"/><circle cx="155.4" cy="271.8" r="3.3"/><circle cx="157.6" cy="274.0" r="3.3"/><circle cx="159.8" cy="276.2" r="3.3"/><circle cx="162.0" cy="278.3" r="3.3"/><circle cx="164.2" cy="280.1" r="3.3"/><circle cx="166.3" cy="281.8" r="3.3"/><circle cx="168.5" cy="283.3" r="3.3"/><circle cx="170.7" cy="284.8" r="3.3"/><circle cx="172.9" cy="286.3" r="3.3"/><circle cx="175.1" cy="287.6" r="3.3"/><circle cx="177.3" cy="288.9" r="3.3"/><circle cx="179.5" cy="290.1" r="3.3"/><circle cx="181.7" cy="291.3" r="3.3"/><circle cx="183.9" cy="292.3" r="3.3"/><circle cx="186.0" cy="293.3" r="3.3"/><circle cx="188.2" cy="294.2" r="3.3"/><circle cx="190.4" cy="295.0" r="3.3"/><circle cx="192.6" cy="295.8" r="3.3"/><circle cx="194.8" cy="296.4" r="3.3"/><circle cx="197.0" cy="297.1" r="3.3"/><circle cx="199.2" cy="297.7" r="3.3"/><circle cx="201.4" cy="298.3" r="3.3"/><circle cx="203.6" cy="299.0" r="3.3"/><circle cx="205.8" cy="299.8" r="3.3"/><circle cx="207.9" cy="300.5" r="3.3"/><circle cx="210.1" cy="301.3" r="3.3"/><circle cx="212.3" cy="302.1" r="3.3"/><circle cx="214.5" cy="302.9" r="3.3"/><circle cx="216.7" cy="303.7" r="3.3"/><circle cx="218.9" cy="304.6" r="3.3"/><circle cx="221.1" cy="305.4" r="3.3"/><circle cx="223.3" cy="306.3" r="3.3"/><circle cx="225.5" cy="307.2" r="3.3"/><circle cx="227.7" cy="307.9" r="3.3"/><circle cx="229.8" cy="308.6" r="3.3"/><circle cx="232.0" cy="309.3" r="3.3"/><circle cx="234.2" cy="309.9" r="3.3"/><circle cx="236.4" cy="310.5" r="3.3"/><circle cx="238.6" cy="311.1" r="3.3"/><circle cx="240.8" cy="311.6" r="3.3"/><circle cx="243.0" cy="312.1" r="3.3"/><circle cx="245.2" cy="312.5" r="3.3"/><circle cx="247.4" cy="312.9" r="3.3"/><circle cx="249.6" cy="313.3" r="3.3"/><circle cx="251.7" cy="313.7" r="3.3"/><circle cx="253.9" cy="314.1" r="3.3"/><circle cx="256.1" cy="314.4" r="3.3"/><circle cx="258.3" cy="314.7" r="3.3"/><circle cx="260.5" cy="315.0" r="3.3"/><circle cx="262.7" cy="315.3" r="3.3"/><circle cx="264.9" cy="315.5" r="3.3"/><circle cx="267.1" cy="315.7" r="3.3"/><circle cx="269.3" cy="315.9" r="3.3"/><circle cx="271.4" cy="316.0" r="3.3"/><circle cx="273.6" cy="316.2" r="3.3"/><circle cx="275.8" cy="316.3" r="3.3"/><circle cx="278.0" cy="316.4" r="3.3"/><circle cx="280.2" cy="316.5" r="3.3"/><circle cx="282.4" cy="316.6" r="3.3"/><circle cx="284.6" cy="316.6" r="3.3"/><circle cx="286.8" cy="316.7" r="3.3"/><circle cx="289.0" cy="316.7" r="3.3"/><circle cx="291.2" cy="316.7" r="3.3"/><circle cx="293.3" cy="316.8" r="3.3"/><circle cx="295.5" cy="316.8" r="3.3"/><circle cx="297.7" cy="316.8" r="3.3"/><circle cx="299.9" cy="316.8" r="3.3"/><circle cx="302.1" cy="316.8" r="3.3"/><circle cx="304.3" cy="316.7" r="3.3"/><circle cx="306.5" cy="316.7" r="3.3"/><circle cx="308.7" cy="316.5" r="3.3"/><circle cx="310.9" cy="316.4" r="3.3"/><circle cx="313.1" cy="316.2" r="3.3"/><circle cx="315.2" cy="316.1" r="3.3"/><circle cx="317.4" cy="315.9" r="3.3"/><circle cx="319.6" cy="315.6" r="3.3"/><circle cx="321.8" cy="315.1" r="3.3"/><circle cx="324.0" cy="314.5" r="3.3"/><circle cx="325.4" cy="313.6" r="3.3"/><circle cx="326.7" cy="312.7" r="3.3"/><circle cx="327.9" cy="311.6" r="3.3"/><circle cx="328.9" cy="310.5" r="3.3"/><circle cx="329.9" cy="309.2" r="3.3"/><circle cx="330.8" cy="307.9" r="3.3"/><circle cx="331.7" cy="306.5" r="3.3"/><circle cx="332.5" cy="305.2" r="3.3"/><circle cx="333.3" cy="303.8" r="3.3"/><circle cx="334.1" cy="302.4" r="3.3"/><circle cx="334.9" cy="301.0" r="3.3"/><circle cx="335.7" cy="299.6" r="3.3"/><circle cx="336.4" cy="298.2" r="3.3"/><circle cx="337.1" cy="296.8" r="3.3"/><circle cx="337.8" cy="295.3" r="3.3"/><circle cx="338.5" cy="293.9" r="3.3"/><circle cx="339.3" cy="292.5" r="3.3"/><circle cx="340.0" cy="291.0" r="3.3"/><circle cx="340.7" cy="289.6" r="3.3"/><circle cx="341.4" cy="288.1" r="3.3"/><circle cx="342.3" cy="286.8" r="3.3"/><circle cx="343.3" cy="285.5" r="3.3"/><circle cx="344.4" cy="284.3" r="3.3"/><circle cx="345.7" cy="283.4" r="3.3"/><circle cx="347.1" cy="283.0" r="3.3"/><circle cx="348.7" cy="282.7" r="3.3"/><circle cx="350.3" cy="282.5" r="3.3"/><circle cx="352.0" cy="282.4" r="3.3"/><circle cx="353.6" cy="282.4" r="3.3"/><circle cx="355.2" cy="282.3" r="3.3"/><circle cx="356.8" cy="282.3" r="3.3"/><circle cx="358.4" cy="282.3" r="3.3"/><circle cx="360.0" cy="282.3" r="3.3"/><circle cx="361.6" cy="282.2" r="3.3"/><circle cx="363.1" cy="282.2" r="3.3"/><circle cx="364.7" cy="282.1" r="3.3"/><circle cx="366.3" cy="282.1" r="3.3"/><circle cx="367.9" cy="282.0" r="3.3"/><circle cx="369.5" cy="281.9" r="3.3"/><circle cx="371.1" cy="281.9" r="3.3"/><circle cx="372.7" cy="281.8" r="3.3"/><circle cx="374.3" cy="281.7" r="3.3"/><circle cx="375.9" cy="281.7" r="3.3"/><circle cx="377.5" cy="281.6" r="3.3"/><circle cx="379.1" cy="281.5" r="3.3"/><circle cx="380.7" cy="281.5" r="3.3"/><circle cx="382.3" cy="281.4" r="3.3"/><circle cx="383.9" cy="281.4" r="3.3"/><circle cx="385.5" cy="281.3" r="3.3"/><circle cx="387.1" cy="281.3" r="3.3"/><circle cx="388.7" cy="281.2" r="3.3"/><circle cx="390.3" cy="281.2" r="3.3"/><circle cx="391.9" cy="281.1" r="3.3"/><circle cx="393.5" cy="281.1" r="3.3"/><circle cx="395.1" cy="281.0" r="3.3"/><circle cx="396.7" cy="280.9" r="3.3"/><circle cx="398.3" cy="280.8" r="3.3"/><circle cx="399.9" cy="280.7" r="3.3"/><circle cx="401.5" cy="280.6" r="3.3"/><circle cx="403.1" cy="280.5" r="3.3"/><circle cx="404.6" cy="280.3" r="3.3"/><circle cx="406.2" cy="280.1" r="3.3"/><circle cx="407.8" cy="279.9" r="3.3"/><circle cx="409.4" cy="279.5" r="3.3"/><circle cx="410.9" cy="279.0" r="3.3"/><circle cx="412.3" cy="278.4" r="3.3"/><circle cx="413.7" cy="277.5" r="3.3"/><circle cx="413.7" cy="277.5" r="3.3"/><circle cx="412.8" cy="277.0" r="3.3"/><circle cx="411.9" cy="276.6" r="3.3"/><circle cx="411.0" cy="276.3" r="3.3"/><circle cx="410.0" cy="276.1" r="3.3"/><circle cx="409.0" cy="276.0" r="3.3"/><circle cx="408.0" cy="275.8" r="3.3"/><circle cx="407.0" cy="275.7" r="3.3"/><circle cx="406.0" cy="275.6" r="3.3"/><circle cx="405.0" cy="275.5" r="3.3"/><circle cx="404.0" cy="275.4" r="3.3"/><circle cx="403.0" cy="275.3" r="3.3"/><circle cx="402.0" cy="275.2" r="3.3"/><circle cx="401.0" cy="275.1" r="3.3"/><circle cx="400.0" cy="275.0" r="3.3"/><circle cx="399.1" cy="274.9" r="3.3"/><circle cx="398.1" cy="274.8" r="3.3"/><circle cx="397.1" cy="274.7" r="3.3"/><circle cx="396.1" cy="274.6" r="3.3"/><circle cx="395.1" cy="274.5" r="3.3"/><circle cx="394.1" cy="274.4" r="3.3"/><circle cx="393.1" cy="274.3" r="3.3"/><circle cx="392.1" cy="274.1" r="3.3"/><circle cx="391.1" cy="274.0" r="3.3"/><circle cx="390.1" cy="273.8" r="3.3"/><circle cx="389.1" cy="273.7" r="3.3"/><circle cx="388.2" cy="273.5" r="3.3"/><circle cx="387.2" cy="273.3" r="3.3"/><circle cx="386.2" cy="273.2" r="3.3"/><circle cx="385.2" cy="273.0" r="3.3"/><circle cx="384.2" cy="272.8" r="3.3"/><circle cx="383.2" cy="272.7" r="3.3"/><circle cx="382.2" cy="272.5" r="3.3"/><circle cx="381.3" cy="272.3" r="3.3"/><circle cx="380.3" cy="272.2" r="3.3"/><circle cx="379.3" cy="272.0" r="3.3"/><circle cx="378.3" cy="271.9" r="3.3"/><circle cx="377.3" cy="271.8" r="3.3"/><circle cx="376.3" cy="271.6" r="3.3"/><circle cx="375.3" cy="271.5" r="3.3"/><circle cx="374.3" cy="271.4" r="3.3"/><circle cx="373.3" cy="271.3" r="3.3"/><circle cx="372.4" cy="271.2" r="3.3"/><circle cx="371.4" cy="271.1" r="3.3"/><circle cx="370.4" cy="271.0" r="3.3"/><circle cx="369.4" cy="270.9" r="3.3"/><circle cx="368.4" cy="270.7" r="3.3"/><circle cx="367.4" cy="270.6" r="3.3"/><circle cx="366.4" cy="270.5" r="3.3"/><circle cx="365.4" cy="270.4" r="3.3"/><circle cx="364.4" cy="270.3" r="3.3"/><circle cx="363.4" cy="270.2" r="3.3"/><circle cx="362.4" cy="270.1" r="3.3"/><circle cx="361.4" cy="270.0" r="3.3"/><circle cx="360.4" cy="269.9" r="3.3"/><circle cx="359.4" cy="269.7" r="3.3"/><circle cx="358.5" cy="269.6" r="3.3"/><circle cx="357.5" cy="269.5" r="3.3"/><circle cx="356.5" cy="269.3" r="3.3"/><circle cx="355.5" cy="269.2" r="3.3"/><circle cx="354.5" cy="269.0" r="3.3"/><circle cx="353.5" cy="268.9" r="3.3"/><circle cx="352.5" cy="268.7" r="3.3"/><circle cx="351.5" cy="268.6" r="3.3"/><circle cx="350.6" cy="268.4" r="3.3"/><circle cx="349.6" cy="268.2" r="3.3"/><circle cx="348.6" cy="268.1" r="3.3"/><circle cx="347.6" cy="267.9" r="3.3"/><circle cx="346.6" cy="267.7" r="3.3"/><circle cx="345.6" cy="267.5" r="3.3"/><circle cx="344.6" cy="267.4" r="3.3"/><circle cx="343.7" cy="267.2" r="3.3"/><circle cx="342.7" cy="267.0" r="3.3"/><circle cx="341.7" cy="266.8" r="3.3"/><circle cx="340.7" cy="266.6" r="3.3"/><circle cx="339.7" cy="266.4" r="3.3"/><circle cx="338.8" cy="266.3" r="3.3"/><circle cx="337.8" cy="266.1" r="3.3"/><circle cx="336.8" cy="265.9" r="3.3"/><circle cx="335.8" cy="265.6" r="3.3"/><circle cx="334.8" cy="265.4" r="3.3"/><circle cx="333.9" cy="265.2" r="3.3"/><circle cx="332.9" cy="265.0" r="3.3"/><circle cx="331.9" cy="264.8" r="3.3"/><circle cx="330.9" cy="264.6" r="3.3"/><circle cx="330.0" cy="264.3" r="3.3"/><circle cx="329.0" cy="264.1" r="3.3"/><circle cx="328.0" cy="263.9" r="3.3"/><circle cx="327.1" cy="263.6" r="3.3"/><circle cx="326.1" cy="263.4" r="3.3"/><circle cx="325.1" cy="263.1" r="3.3"/><circle cx="324.1" cy="262.9" r="3.3"/><circle cx="323.2" cy="262.6" r="3.3"/><circle cx="322.2" cy="262.4" r="3.3"/><circle cx="321.3" cy="262.1" r="3.3"/><circle cx="320.3" cy="261.9" r="3.3"/><circle cx="319.3" cy="261.6" r="3.3"/><circle cx="318.4" cy="261.4" r="3.3"/><circle cx="317.4" cy="261.1" r="3.3"/><circle cx="316.4" cy="260.8" r="3.3"/><circle cx="315.5" cy="260.5" r="3.3"/><circle cx="314.5" cy="260.3" r="3.3"/><circle cx="313.6" cy="260.0" r="3.3"/><circle cx="312.6" cy="259.7" r="3.3"/><circle cx="311.6" cy="259.4" r="3.3"/><circle cx="310.7" cy="259.1" r="3.3"/><circle cx="309.7" cy="258.8" r="3.3"/><circle cx="308.8" cy="258.5" r="3.3"/><circle cx="307.8" cy="258.2" r="3.3"/><circle cx="306.9" cy="257.9" r="3.3"/><circle cx="305.9" cy="257.6" r="3.3"/><circle cx="305.0" cy="257.3" r="3.3"/><circle cx="304.0" cy="256.9" r="3.3"/><circle cx="303.1" cy="256.6" r="3.3"/><circle cx="302.1" cy="256.3" r="3.3"/><circle cx="301.2" cy="255.9" r="3.3"/><circle cx="300.3" cy="255.6" r="3.3"/><circle cx="299.3" cy="255.3" r="3.3"/><circle cx="298.4" cy="254.9" r="3.3"/><circle cx="297.5" cy="254.5" r="3.3"/><circle cx="296.6" cy="254.2" r="3.3"/><circle cx="295.6" cy="253.8" r="3.3"/><circle cx="294.7" cy="253.4" r="3.3"/><circle cx="293.8" cy="253.0" r="3.3"/><circle cx="292.9" cy="252.6" r="3.3"/><circle cx="292.0" cy="252.2" r="3.3"/><circle cx="291.0" cy="251.8" r="3.3"/><circle cx="290.1" cy="251.4" r="3.3"/><circle cx="289.2" cy="251.0" r="3.3"/><circle cx="288.3" cy="250.5" r="3.3"/><circle cx="287.4" cy="250.1" r="3.3"/><circle cx="286.5" cy="249.7" r="3.3"/><circle cx="285.6" cy="249.3" r="3.3"/><circle cx="284.7" cy="248.9" r="3.3"/><circle cx="283.8" cy="248.4" r="3.3"/><circle cx="282.9" cy="248.0" r="3.3"/><circle cx="282.0" cy="247.6" r="3.3"/><circle cx="281.1" cy="247.1" r="3.3"/><circle cx="280.2" cy="246.7" r="3.3"/><circle cx="279.3" cy="246.2" r="3.3"/><circle cx="278.4" cy="245.8" r="3.3"/><circle cx="277.5" cy="245.3" r="3.3"/><circle cx="276.6" cy="244.9" r="3.3"/><circle cx="275.7" cy="244.4" r="3.3"/><circle cx="274.9" cy="243.9" r="3.3"/><circle cx="274.0" cy="243.5" r="3.3"/><circle cx="273.1" cy="243.0" r="3.3"/><circle cx="272.2" cy="242.5" r="3.3"/><circle cx="271.4" cy="242.0" r="3.3"/><circle cx="270.5" cy="241.5" r="3.3"/><circle cx="269.6" cy="241.0" r="3.3"/><circle cx="268.7" cy="240.5" r="3.3"/><circle cx="267.8" cy="240.0" r="3.3"/><circle cx="267.0" cy="239.5" r="3.3"/><circle cx="266.1" cy="239.0" r="3.3"/><circle cx="265.3" cy="238.5" r="3.3"/><circle cx="264.4" cy="238.0" r="3.3"/><circle cx="263.6" cy="237.4" r="3.3"/><circle cx="262.7" cy="236.9" r="3.3"/><circle cx="261.9" cy="236.3" r="3.3"/><circle cx="261.1" cy="235.8" r="3.3"/><circle cx="260.3" cy="235.2" r="3.3"/><circle cx="259.5" cy="234.6" r="3.3"/><circle cx="258.7" cy="234.0" r="3.3"/><circle cx="257.9" cy="233.4" r="3.3"/><circle cx="257.2" cy="232.8" r="3.3"/><circle cx="256.4" cy="232.1" r="3.3"/><circle cx="255.6" cy="231.5" r="3.3"/><circle cx="254.9" cy="230.8" r="3.3"/><circle cx="254.2" cy="230.1" r="3.3"/><circle cx="253.4" cy="229.5" r="3.3"/><circle cx="252.7" cy="228.8" r="3.3"/><circle cx="252.0" cy="228.1" r="3.3"/><circle cx="251.2" cy="227.4" r="3.3"/><circle cx="250.5" cy="226.7" r="3.3"/><circle cx="249.8" cy="226.0" r="3.3"/><circle cx="249.1" cy="225.3" r="3.3"/><circle cx="248.3" cy="224.6" r="3.3"/><circle cx="247.6" cy="223.9" r="3.3"/><circle cx="246.9" cy="223.2" r="3.3"/><circle cx="246.1" cy="222.6" r="3.3"/><circle cx="245.4" cy="221.9" r="3.3"/><circle cx="244.7" cy="221.2" r="3.3"/><circle cx="243.9" cy="220.5" r="3.3"/><circle cx="243.2" cy="219.8" r="3.3"/><circle cx="242.5" cy="219.2" r="3.3"/><circle cx="241.8" cy="218.5" r="3.3"/><circle cx="241.0" cy="217.8" r="3.3"/><circle cx="240.3" cy="217.1" r="3.3"/><circle cx="239.6" cy="216.4" r="3.3"/><circle cx="238.9" cy="215.7" r="3.3"/><circle cx="238.1" cy="215.0" r="3.3"/><circle cx="237.4" cy="214.3" r="3.3"/><circle cx="236.7" cy="213.6" r="3.3"/><circle cx="236.0" cy="212.9" r="3.3"/><circle cx="235.3" cy="212.2" r="3.3"/><circle cx="234.6" cy="211.5" r="3.3"/><circle cx="233.9" cy="210.8" r="3.3"/><circle cx="233.1" cy="210.1" r="3.3"/><circle cx="232.4" cy="209.4" r="3.3"/><circle cx="231.7" cy="208.7" r="3.3"/><circle cx="231.0" cy="208.0" r="3.3"/><circle cx="230.3" cy="207.3" r="3.3"/><circle cx="229.6" cy="206.6" r="3.3"/><circle cx="228.9" cy="205.9" r="3.3"/><circle cx="228.2" cy="205.2" r="3.3"/><circle cx="227.5" cy="204.4" r="3.3"/><circle cx="226.8" cy="203.7" r="3.3"/><circle cx="226.2" cy="203.0" r="3.3"/><circle cx="225.5" cy="202.3" r="3.3"/><circle cx="224.8" cy="201.6" r="3.3"/><circle cx="224.1" cy="200.8" r="3.3"/><circle cx="223.4" cy="200.1" r="3.3"/><circle cx="222.7" cy="199.4" r="3.3"/><circle cx="222.0" cy="198.7" r="3.3"/><circle cx="221.3" cy="197.9" r="3.3"/><circle cx="220.7" cy="197.2" r="3.3"/><circle cx="220.0" cy="196.5" r="3.3"/><circle cx="219.3" cy="195.7" r="3.3"/><circle cx="218.6" cy="195.0" r="3.3"/><circle cx="217.9" cy="194.3" r="3.3"/><circle cx="217.3" cy="193.5" r="3.3"/><circle cx="216.6" cy="192.8" r="3.3"/><circle cx="215.9" cy="192.1" r="3.3"/><circle cx="215.2" cy="191.3" r="3.3"/><circle cx="214.6" cy="190.6" r="3.3"/><circle cx="213.9" cy="189.9" r="3.3"/><circle cx="213.2" cy="189.1" r="3.3"/><circle cx="212.5" cy="188.4" r="3.3"/><circle cx="211.9" cy="187.6" r="3.3"/><circle cx="211.2" cy="186.9" r="3.3"/></g>
<g fill="#fff" stroke="#00ffff" stroke-width="1.4"><circle cx="91.3" cy="193.6" r="3.3"/><circle cx="93.6" cy="198.8" r="3.3"/><circle cx="95.9" cy="204.0" r="3.3"/><circle cx="98.2" cy="208.6" r="3.3"/><circle cx="100.6" cy="213.2" r="3.3"/><circle cx="102.9" cy="217.8" r="3.3"/><circle cx="105.2" cy="221.9" r="3.3"/><circle cx="107.5" cy="225.9" r="3.3"/><circle cx="109.8" cy="229.9" r="3.3"/><circle cx="112.0" cy="233.2" r="3.3"/><circle cx="114.2" cy="237.1" r="3.3"/><circle cx="116.4" cy="241.2" r="3.3"/><circle cx="118.6" cy="245.2" r="3.3"/><circle cx="120.8" cy="248.8" r="3.3"/><circle cx="123.0" cy="252.1" r="3.3"/><circle cx="125.2" cy="255.2" r="3.3"/><circle cx="127.4" cy="258.0" r="3.3"/><circle cx="129.6" cy="260.7" r="3.3"/><circle cx="131.8" cy="263.3" r="3.3"/><circle cx="134.0" cy="265.7" r="3.3"/><circle cx="136.2" cy="268.1" r="3.3"/><circle cx="138.5" cy="270.6" r="3.3"/><circle cx="140.7" cy="273.1" r="3.3"/><circle cx="142.9" cy="275.5" r="3.3"/><circle cx="145.1" cy="277.8" r="3.3"/><circle cx="147.3" cy="279.8" r="3.3"/><circle cx="149.5" cy="281.7" r="3.3"/><circle cx="151.7" cy="283.5" r="3.3"/><circle cx="153.9" cy="285.1" r="3.3"/><circle cx="156.1" cy="286.8" r="3.3"/><circle cx="158.3" cy="288.5" r="3.3"/><circle cx="160.5" cy="289.9" r="3.3"/><circle cx="162.7" cy="291.1" r="3.3"/><circle cx="164.9" cy="292.3" r="3.3"/><circle cx="167.1" cy="293.3" r="3.3"/><circle cx="169.3" cy="294.2" r="3.3"/><circle cx="171.5" cy="295.0" r="3.3"/><circle cx="173.7" cy="295.7" r="3.3"/><circle cx="175.9" cy="296.4" r="3.3"/><circle cx="178.1" cy="297.0" r="3.3"/><circle cx="180.3" cy="297.6" r="3.3"/><circle cx="182.5" cy="298.1" r="3.3"/><circle cx="184.7" cy="298.7" r="3.3"/><circle cx="186.9" cy="299.3" r="3.3"/><circle cx="189.1" cy="299.9" r="3.3"/><circle cx="191.3" cy="300.5" r="3.3"/><circle cx="193.6" cy="301.2" r="3.3"/><circle cx="195.8" cy="301.8" r="3.3"/><circle cx="198.0" cy="302.5" r="3.3"/><circle cx="200.2" cy="303.1" r="3.3"/><circle cx="202.4" cy="303.7" r="3.3"/><circle cx="204.6" cy="304.4" r="3.3"/><circle cx="206.8" cy="305.0" r="3.3"/><circle cx="209.0" cy="305.6" r="3.3"/><circle cx="211.2" cy="306.3" r="3.3"/><circle cx="213.4" cy="306.9" r="3.3"/><circle cx="215.6" cy="307.5" r="3.3"/><circle cx="217.8" cy="308.2" r="3.3"/><circle cx="220.0" cy="308.8" r="3.3"/><circle cx="221.4" cy="309.1" r="3.3"/><circle cx="222.8" cy="309.5" r="3.3"/><circle cx="224.2" cy="309.8" r="3.3"/><circle cx="225.6" cy="310.1" r="3.3"/><circle cx="227.0" cy="310.4" r="3.3"/><circle cx="228.4" cy="310.7" r="3.3"/><circle cx="229.8" cy="311.0" r="3.3"/><circle cx="231.2" cy="311.3" r="3.3"/><circle cx="232.6" cy="311.6" r="3.3"/><circle cx="234.0" cy="311.9" r="3.3"/><circle cx="235.4" cy="312.2" r="3.3"/><circle cx="236.8" cy="312.4" r="3.3"/><circle cx="238.2" cy="312.7" r="3.3"/><circle cx="239.6" cy="313.0" r="3.3"/><circle cx="241.0" cy="313.2" r="3.3"/><circle cx="242.4" cy="313.5" r="3.3"/><circle cx="243.8" cy="313.8" r="3.3"/><circle cx="245.2" cy="314.0" r="3.3"/><circle cx="246.5" cy="314.3" r="3.3"/><circle cx="247.9" cy="314.6" r="3.3"/><circle cx="249.3" cy="314.8" r="3.3"/><circle cx="250.7" cy="315.1" r="3.3"/><circle cx="252.1" cy="315.4" r="3.3"/><circle cx="253.5" cy="315.6" r="3.3"/><circle cx="254.9" cy="315.9" r="3.3"/><circle cx="256.3" cy="316.1" r="3.3"/><circle cx="257.7" cy="316.4" r="3.3"/><circle cx="259.1" cy="316.6" r="3.3"/><circle cx="260.5" cy="316.8" r="3.3"/><circle cx="261.9" cy="317.0" r="3.3"/><circle cx="263.3" cy="317.2" r="3.3"/><circle cx="264.7" cy="317.4" r="3.3"/><circle cx="266.1" cy="317.5" r="3.3"/><circle cx="267.5" cy="317.6" r="3.3"/><circle cx="268.9" cy="317.8" r="3.3"/><circle cx="270.3" cy="317.9" r="3.3"/><circle cx="271.7" cy="318.0" r="3.3"/><circle cx="273.1" cy="318.1" r="3.3"/><circle cx="274.5" cy="318.2" r="3.3"/><circle cx="275.9" cy="318.3" r="3.3"/><circle cx="277.3" cy="318.4" r="3.3"/><circle cx="278.7" cy="318.5" r="3.3"/><circle cx="280.1" cy="318.5" r="3.3"/><circle cx="281.5" cy="318.5" r="3.3"/><circle cx="282.9" cy="318.6" r="3.3"/><circle cx="284.3" cy="318.6" r="3.3"/><circle cx="285.7" cy="318.6" r="3.3"/><circle cx="287.1" cy="318.7" r="3.3"/><circle cx="288.5" cy="318.7" r="3.3"/><circle cx="289.9" cy="318.7" r="3.3"/><circle cx="291.3" cy="318.7" r="3.3"/><circle cx="292.7" cy="318.8" r="3.3"/><circle cx="294.1" cy="318.8" r="3.3"/><circle cx="295.5" cy="318.8" r="3.3"/><circle cx="296.8" cy="318.8" r="3.3"/><circle cx="298.2" cy="318.8" r="3.3"/><circle cx="299.6" cy="318.8" r="3.3"/><circle cx="301.0" cy="318.8" r="3.3"/><circle cx="302.4" cy="318.8" r="3.3"/><circle cx="303.8" cy="318.8" r="3.3"/><circle cx="305.2" cy="318.8" r="3.3"/><circle cx="306.6" cy="318.8" r="3.3"/><circle cx="308.0" cy="318.8" r="3.3"/><circle cx="309.4" cy="318.7" r="3.3"/><circle cx="310.8" cy="318.7" r="3.3"/><circle cx="312.2" cy="318.7" r="3.3"/><circle cx="313.6" cy="318.7" r="3.3"/><circle cx="315.0" cy="318.7" r="3.3"/><circle cx="316.4" cy="318.6" r="3.3"/><circle cx="317.8" cy="318.6" r="3.3"/><circle cx="319.2" cy="318.6" r="3.3"/><circle cx="320.6" cy="318.5" r="3.3"/><circle cx="322.0" cy="318.5" r="3.3"/><circle cx="325.3" cy="315.5" r="3.3"/><circle cx="328.6" cy="310.5" r="3.3"/><circle cx="331.4" cy="304.5" r="3.3"/><circle cx="333.6" cy="283.5" r="3.3"/><circle cx="335.8" cy="271.3" r="3.3"/><circle cx="336.4" cy="268.8" r="3.3"/><circle cx="336.9" cy="266.2" r="3.3"/><circle cx="337.4" cy="263.7" r="3.3"/><circle cx="337.9" cy="261.1" r="3.3"/><circle cx="338.4" cy="258.6" r="3.3"/><circle cx="339.1" cy="256.1" r="3.3"/><circle cx="340.1" cy="253.7" r="3.3"/><circle cx="341.3" cy="251.4" r="3.3"/><circle cx="342.5" cy="249.1" r="3.3"/><circle cx="343.9" cy="246.8" r="3.3"/><circle cx="345.6" cy="244.7" r="3.3"/><circle cx="347.5" cy="243.2" r="3.3"/><circle cx="349.9" cy="242.1" r="3.3"/><circle cx="352.4" cy="241.4" r="3.3"/><circle cx="355.0" cy="241.2" r="3.3"/><circle cx="357.6" cy="241.0" r="3.3"/><circle cx="360.2" cy="241.0" r="3.3"/><circle cx="362.8" cy="240.9" r="3.3"/><circle cx="365.4" cy="240.9" r="3.3"/><circle cx="367.9" cy="240.9" r="3.3"/><circle cx="370.5" cy="240.9" r="3.3"/><circle cx="373.1" cy="240.9" r="3.3"/><circle cx="375.7" cy="240.9" r="3.3"/><circle cx="378.3" cy="240.9" r="3.3"/><circle cx="380.9" cy="240.9" r="3.3"/><circle cx="383.5" cy="240.8" r="3.3"/><circle cx="386.1" cy="240.8" r="3.3"/><circle cx="388.7" cy="240.7" r="3.3"/><circle cx="391.3" cy="240.6" r="3.3"/><circle cx="393.9" cy="240.4" r="3.3"/><circle cx="396.5" cy="240.1" r="3.3"/><circle cx="399.1" cy="239.8" r="3.3"/><circle cx="401.6" cy="239.4" r="3.3"/><circle cx="404.2" cy="239.1" r="3.3"/><circle cx="406.8" cy="238.5" r="3.3"/><circle cx="409.3" cy="237.8" r="3.3"/><circle cx="411.5" cy="236.7" r="3.3"/><circle cx="413.3" cy="234.9" r="3.3"/><circle cx="414.7" cy="232.5" r="3.3"/><circle cx="414.7" cy="232.5" r="3.60"/><circle cx="413.7" cy="232.7" r="3.60"/><circle cx="412.7" cy="232.9" r="3.60"/><circle cx="411.7" cy="233.0" r="3.60"/><circle cx="410.8" cy="233.2" r="3.60"/><circle cx="409.8" cy="233.3" r="3.60"/><circle cx="408.8" cy="233.5" r="3.60"/><circle cx="407.8" cy="233.6" r="3.60"/><circle cx="406.8" cy="233.8" r="3.60"/><circle cx="405.8" cy="233.9" r="3.60"/><circle cx="404.8" cy="234.0" r="3.60"/><circle cx="403.8" cy="234.1" r="3.60"/><circle cx="402.8" cy="234.2" r="3.60"/><circle cx="401.8" cy="234.3" r="3.60"/><circle cx="400.8" cy="234.3" r="3.60"/><circle cx="399.8" cy="234.3" r="3.60"/><circle cx="398.8" cy="234.2" r="3.60"/><circle cx="397.8" cy="234.0" r="3.60"/><circle cx="396.8" cy="233.9" r="3.60"/><circle cx="395.8" cy="233.7" r="3.60"/><circle cx="394.9" cy="233.5" r="3.60"/><circle cx="393.9" cy="233.3" r="3.60"/><circle cx="392.9" cy="233.1" r="3.60"/><circle cx="391.9" cy="232.9" r="3.60"/><circle cx="390.9" cy="232.7" r="3.60"/><circle cx="390.0" cy="232.4" r="3.60"/><circle cx="389.0" cy="232.2" r="3.60"/><circle cx="388.0" cy="232.0" r="3.60"/><circle cx="387.1" cy="231.7" r="3.60"/><circle cx="386.1" cy="231.4" r="3.60"/><circle cx="385.1" cy="231.2" r="3.60"/><circle cx="384.2" cy="230.9" r="3.60"/><circle cx="383.2" cy="230.6" r="3.60"/><circle cx="382.2" cy="230.4" r="3.60"/><circle cx="381.2" cy="230.1" r="3.60"/><circle cx="380.3" cy="229.9" r="3.60"/><circle cx="379.3" cy="229.6" r="3.60"/><circle cx="378.3" cy="229.4" r="3.60"/><circle cx="377.4" cy="229.1" r="3.60"/><circle cx="376.4" cy="228.9" r="3.60"/><circle cx="375.4" cy="228.6" r="3.60"/><circle cx="374.5" cy="228.4" r="3.60"/><circle cx="373.5" cy="228.1" r="3.60"/><circle cx="372.5" cy="227.9" r="3.60"/><circle cx="371.6" cy="227.6" r="3.60"/><circle cx="370.6" cy="227.4" r="3.60"/><circle cx="369.6" cy="227.1" r="3.60"/><circle cx="368.7" cy="226.8" r="3.60"/><circle cx="367.7" cy="226.6" r="3.60"/><circle cx="366.7" cy="226.3" r="3.60"/><circle cx="365.7" cy="226.1" r="3.60"/><circle cx="364.8" cy="225.8" r="3.60"/><circle cx="363.8" cy="225.5" r="3.60"/><circle cx="362.8" cy="225.3" r="3.60"/><circle cx="361.9" cy="225.0" r="3.60"/><circle cx="360.9" cy="224.8" r="3.60"/><circle cx="359.9" cy="224.5" r="3.60"/><circle cx="359.0" cy="224.2" r="3.61"/><circle cx="358.0" cy="224.0" r="3.61"/><circle cx="357.0" cy="223.7" r="3.62"/><circle cx="356.1" cy="223.4" r="3.63"/><circle cx="355.1" cy="223.1" r="3.63"/><circle cx="354.2" cy="222.9" r="3.64"/><circle cx="353.2" cy="222.6" r="3.65"/><circle cx="352.2" cy="222.3" r="3.65"/><circle cx="351.3" cy="222.0" r="3.66"/><circle cx="350.3" cy="221.7" r="3.66"/><circle cx="349.4" cy="221.4" r="3.67"/><circle cx="348.4" cy="221.0" r="3.68"/><circle cx="347.5" cy="220.7" r="3.68"/><circle cx="346.6" cy="220.3" r="3.69"/><circle cx="345.6" cy="219.9" r="3.70"/><circle cx="344.7" cy="219.5" r="3.70"/><circle cx="343.8" cy="219.1" r="3.71"/><circle cx="342.9" cy="218.8" r="3.71"/><circle cx="341.9" cy="218.4" r="3.72"/><circle cx="341.0" cy="218.1" r="3.73"/><circle cx="340.0" cy="217.8" r="3.73"/><circle cx="339.1" cy="217.6" r="3.74"/><circle cx="338.1" cy="217.3" r="3.75"/><circle cx="337.1" cy="217.1" r="3.75"/><circle cx="336.1" cy="216.9" r="3.76"/><circle cx="335.2" cy="216.7" r="3.77"/><circle cx="334.2" cy="216.6" r="3.77"/><circle cx="333.2" cy="216.4" r="3.78"/><circle cx="332.2" cy="216.2" r="3.79"/><circle cx="331.2" cy="216.0" r="3.79"/><circle cx="330.2" cy="215.8" r="3.80"/><circle cx="329.2" cy="215.6" r="3.80"/><circle cx="328.3" cy="215.4" r="3.80"/><circle cx="327.3" cy="215.2" r="3.80"/><circle cx="326.3" cy="214.9" r="3.80"/><circle cx="325.4" cy="214.7" r="3.80"/><circle cx="324.4" cy="214.4" r="3.80"/><circle cx="323.4" cy="214.1" r="3.80"/><circle cx="322.5" cy="213.8" r="3.80"/><circle cx="321.5" cy="213.5" r="3.80"/><circle cx="320.6" cy="213.2" r="3.80"/><circle cx="319.6" cy="212.9" r="3.80"/><circle cx="318.6" cy="212.6" r="3.80"/><circle cx="317.7" cy="212.3" r="3.80"/><circle cx="316.7" cy="212.0" r="3.80"/><circle cx="315.8" cy="211.7" r="3.80"/><circle cx="314.8" cy="211.4" r="3.80"/><circle cx="313.9" cy="211.1" r="3.80"/><circle cx="312.9" cy="210.9" r="3.80"/><circle cx="311.9" cy="210.6" r="3.80"/><circle cx="311.0" cy="210.3" r="3.80"/><circle cx="310.0" cy="210.0" r="3.80"/><circle cx="309.1" cy="209.7" r="3.80"/><circle cx="308.1" cy="209.4" r="3.80"/><circle cx="307.2" cy="209.0" r="3.80"/><circle cx="306.2" cy="208.7" r="3.80"/><circle cx="305.3" cy="208.4" r="3.80"/><circle cx="304.3" cy="208.1" r="3.80"/><circle cx="303.4" cy="207.7" r="3.80"/><circle cx="302.5" cy="207.4" r="3.80"/><circle cx="301.5" cy="207.0" r="3.80"/><circle cx="300.6" cy="206.6" r="3.80"/><circle cx="299.7" cy="206.3" r="3.80"/><circle cx="298.7" cy="205.9" r="3.80"/><circle cx="297.8" cy="205.5" r="3.80"/><circle cx="296.9" cy="205.2" r="3.80"/><circle cx="295.9" cy="204.8" r="3.80"/><circle cx="295.0" cy="204.4" r="3.80"/><circle cx="294.1" cy="204.0" r="3.80"/><circle cx="293.1" cy="203.6" r="3.80"/><circle cx="292.2" cy="203.3" r="3.80"/><circle cx="291.3" cy="202.9" r="3.80"/><circle cx="290.4" cy="202.5" r="3.80"/><circle cx="289.4" cy="202.1" r="3.80"/><circle cx="288.5" cy="201.7" r="3.80"/><circle cx="287.6" cy="201.3" r="3.80"/><circle cx="286.7" cy="200.9" r="3.80"/><circle cx="285.8" cy="200.5" r="3.80"/><circle cx="284.9" cy="200.1" r="3.80"/><circle cx="284.0" cy="199.6" r="3.80"/><circle cx="283.1" cy="199.2" r="3.80"/><circle cx="282.2" cy="198.7" r="3.80"/><circle cx="281.3" cy="198.3" r="3.80"/><circle cx="280.5" cy="197.8" r="3.80"/><circle cx="279.6" cy="197.2" r="3.80"/><circle cx="278.8" cy="196.7" r="3.80"/><circle cx="277.9" cy="196.2" r="3.80"/><circle cx="277.1" cy="195.6" r="3.80"/><circle cx="276.2" cy="195.1" r="3.80"/><circle cx="275.4" cy="194.5" r="3.80"/><circle cx="274.6" cy="194.0" r="3.80"/><circle cx="273.7" cy="193.4" r="3.80"/><circle cx="272.9" cy="192.8" r="3.80"/><circle cx="272.1" cy="192.2" r="3.80"/><circle cx="271.3" cy="191.6" r="3.80"/><circle cx="270.5" cy="191.0" r="3.80"/><circle cx="269.7" cy="190.4" r="3.80"/><circle cx="268.9" cy="189.8" r="3.80"/><circle cx="268.1" cy="189.3" r="3.80"/><circle cx="267.3" cy="188.7" r="3.80"/><circle cx="266.5" cy="188.0" r="3.80"/><circle cx="265.7" cy="187.4" r="3.80"/><circle cx="264.9" cy="186.8" r="3.80"/><circle cx="264.1" cy="186.2" r="3.80"/><circle cx="263.3" cy="185.6" r="3.80"/><circle cx="262.5" cy="184.9" r="3.80"/><circle cx="261.8" cy="184.3" r="3.80"/><circle cx="261.0" cy="183.7" r="3.80"/><circle cx="260.2" cy="183.0" r="3.80"/><circle cx="259.5" cy="182.4" r="3.80"/><circle cx="258.7" cy="181.7" r="3.80"/><circle cx="257.9" cy="181.1" r="3.80"/><circle cx="257.2" cy="180.4" r="3.80"/><circle cx="256.4" cy="179.7" r="3.80"/><circle cx="255.7" cy="179.1" r="3.80"/><circle cx="254.9" cy="178.4" r="3.80"/><circle cx="254.2" cy="177.8" r="3.80"/><circle cx="253.4" cy="177.1" r="3.80"/><circle cx="252.7" cy="176.4" r="3.80"/><circle cx="252.0" cy="175.7" r="3.80"/><circle cx="251.3" cy="175.0" r="3.80"/><circle cx="250.5" cy="174.3" r="3.80"/><circle cx="249.8" cy="173.6" r="3.80"/><circle cx="249.1" cy="172.9" r="3.80"/><circle cx="248.4" cy="172.2" r="3.80"/><circle cx="247.7" cy="171.5" r="3.80"/><circle cx="247.0" cy="170.8" r="3.80"/><circle cx="246.3" cy="170.1" r="3.80"/><circle cx="245.6" cy="169.4" r="3.80"/><circle cx="244.8" cy="168.7" r="3.80"/><circle cx="244.1" cy="168.0" r="3.80"/><circle cx="243.4" cy="167.3" r="3.80"/><circle cx="242.7" cy="166.6" r="3.80"/><circle cx="241.9" cy="165.9" r="3.80"/><circle cx="241.2" cy="165.2" r="3.80"/><circle cx="240.5" cy="164.6" r="3.80"/><circle cx="239.7" cy="163.9" r="3.80"/><circle cx="239.0" cy="163.2" r="3.80"/><circle cx="238.2" cy="162.6" r="3.80"/><circle cx="237.5" cy="161.9" r="3.80"/><circle cx="236.7" cy="161.3" r="3.80"/><circle cx="235.9" cy="160.6" r="3.80"/><circle cx="235.2" cy="160.0" r="3.80"/><circle cx="234.4" cy="159.3" r="3.80"/><circle cx="233.6" cy="158.7" r="3.80"/><circle cx="232.9" cy="158.0" r="3.80"/><circle cx="232.1" cy="157.4" r="3.80"/><circle cx="231.3" cy="156.7" r="3.80"/><circle cx="230.6" cy="156.1" r="3.79"/><circle cx="229.8" cy="155.4" r="3.79"/><circle cx="229.1" cy="154.8" r="3.79"/><circle cx="228.3" cy="154.1" r="3.78"/><circle cx="227.6" cy="153.5" r="3.78"/><circle cx="226.8" cy="152.8" r="3.77"/><circle cx="226.1" cy="152.1" r="3.77"/><circle cx="225.3" cy="151.5" r="3.77"/><circle cx="224.6" cy="150.8" r="3.76"/><circle cx="223.8" cy="150.1" r="3.76"/><circle cx="223.1" cy="149.5" r="3.76"/><circle cx="222.3" cy="148.8" r="3.75"/><circle cx="221.6" cy="148.1" r="3.75"/><circle cx="220.8" cy="147.5" r="3.74"/><circle cx="220.1" cy="146.8" r="3.74"/><circle cx="219.4" cy="146.1" r="3.74"/><circle cx="218.6" cy="145.4" r="3.73"/><circle cx="217.9" cy="144.8" r="3.73"/><circle cx="217.1" cy="144.1" r="3.73"/><circle cx="216.4" cy="143.4" r="3.72"/><circle cx="215.7" cy="142.7" r="3.72"/><circle cx="214.9" cy="142.1" r="3.71"/><circle cx="214.2" cy="141.4" r="3.71"/><circle cx="213.5" cy="140.7" r="3.71"/><circle cx="212.7" cy="140.0" r="3.70"/><circle cx="212.0" cy="139.3" r="3.70"/><circle cx="211.3" cy="138.6" r="3.64"/><circle cx="210.5" cy="137.9" r="3.59"/><circle cx="209.8" cy="137.3" r="3.54"/><circle cx="209.1" cy="136.6" r="3.49"/><circle cx="208.4" cy="135.9" r="3.44"/><circle cx="207.6" cy="135.2" r="3.40"/><circle cx="206.9" cy="134.5" r="3.35"/><circle cx="206.2" cy="133.8" r="3.30"/></g>
<g fill="#fff" stroke="#ff0000" stroke-width="1.4"><circle cx="92.3" cy="263.3" r="3.3"/><circle cx="94.3" cy="264.9" r="3.3"/><circle cx="96.3" cy="266.6" r="3.3"/><circle cx="98.3" cy="268.2" r="3.3"/><circle cx="100.3" cy="269.9" r="3.3"/><circle cx="102.2" cy="271.6" r="3.3"/><circle cx="104.2" cy="273.3" r="3.3"/><circle cx="106.1" cy="275.0" r="3.3"/><circle cx="108.1" cy="276.7" r="3.3"/><circle cx="110.1" cy="278.3" r="3.3"/><circle cx="112.1" cy="280.0" r="3.3"/><circle cx="114.1" cy="281.6" r="3.3"/><circle cx="116.1" cy="283.3" r="3.3"/><circle cx="118.1" cy="284.9" r="3.3"/><circle cx="120.1" cy="286.5" r="3.3"/><circle cx="122.2" cy="288.0" r="3.3"/><circle cx="124.3" cy="289.5" r="3.3"/><circle cx="126.5" cy="290.9" r="3.3"/><circle cx="128.7" cy="292.2" r="3.3"/><circle cx="130.9" cy="293.6" r="3.3"/><circle cx="133.1" cy="294.9" r="3.3"/><circle cx="135.3" cy="296.3" r="3.3"/><circle cx="137.6" cy="297.6" r="3.3"/><circle cx="139.9" cy="298.7" r="3.3"/><circle cx="142.3" cy="299.7" r="3.3"/><circle cx="144.7" cy="300.7" r="3.3"/><circle cx="147.1" cy="301.7" r="3.3"/><circle cx="149.5" cy="302.7" r="3.3"/><circle cx="151.9" cy="303.6" r="3.3"/><circle cx="154.3" cy="304.6" r="3.3"/><circle cx="156.7" cy="305.5" r="3.3"/><circle cx="159.2" cy="306.3" r="3.3"/><circle cx="161.6" cy="307.2" r="3.3"/><circle cx="164.0" cy="308.0" r="3.3"/><circle cx="166.5" cy="308.8" r="3.3"/><circle cx="169.0" cy="309.6" r="3.3"/><circle cx="171.4" cy="310.4" r="3.3"/><circle cx="173.9" cy="311.2" r="3.3"/><circle cx="176.4" cy="312.0" r="3.3"/><circle cx="178.8" cy="312.8" r="3.3"/><circle cx="181.3" cy="313.6" r="3.3"/><circle cx="183.8" cy="314.3" r="3.3"/><circle cx="186.2" cy="315.1" r="3.3"/><circle cx="188.7" cy="315.8" r="3.3"/><circle cx="191.2" cy="316.5" r="3.3"/><circle cx="193.7" cy="317.2" r="3.3"/><circle cx="196.2" cy="317.9" r="3.3"/><circle cx="198.7" cy="318.5" r="3.3"/><circle cx="201.2" cy="319.0" r="3.3"/><circle cx="203.8" cy="319.5" r="3.3"/><circle cx="206.3" cy="320.0" r="3.3"/><circle cx="208.9" cy="320.4" r="3.3"/><circle cx="211.4" cy="320.8" r="3.3"/><circle cx="214.0" cy="321.2" r="3.3"/><circle cx="216.6" cy="321.6" r="3.3"/><circle cx="219.1" cy="321.9" r="3.3"/><circle cx="221.7" cy="322.2" r="3.3"/><circle cx="224.3" cy="322.5" r="3.3"/><circle cx="226.8" cy="322.7" r="3.3"/><circle cx="229.4" cy="323.0" r="3.3"/><circle cx="232.0" cy="323.2" r="3.3"/><circle cx="236.5" cy="323.4" r="3.3"/><circle cx="237.8" cy="323.6" r="3.3"/><circle cx="239.1" cy="323.8" r="3.3"/><circle cx="240.4" cy="324.0" r="3.3"/><circle cx="241.7" cy="324.2" r="3.3"/><circle cx="243.0" cy="324.4" r="3.3"/><circle cx="244.3" cy="324.6" r="3.3"/><circle cx="245.6" cy="324.8" r="3.3"/><circle cx="246.9" cy="324.9" r="3.3"/><circle cx="248.2" cy="325.1" r="3.3"/><circle cx="249.5" cy="325.2" r="3.3"/><circle cx="250.8" cy="325.4" r="3.3"/><circle cx="234.6" cy="323.3" r="3.3"/><circle cx="252.1" cy="325.5" r="3.3"/><circle cx="253.4" cy="325.7" r="3.3"/><circle cx="254.7" cy="325.8" r="3.3"/><circle cx="256.0" cy="325.9" r="3.3"/><circle cx="257.3" cy="326.0" r="3.3"/><circle cx="258.6" cy="326.2" r="3.3"/><circle cx="259.9" cy="326.3" r="3.3"/><circle cx="261.2" cy="326.4" r="3.3"/><circle cx="262.5" cy="326.5" r="3.3"/><circle cx="263.8" cy="326.6" r="3.3"/><circle cx="265.1" cy="326.7" r="3.3"/><circle cx="266.4" cy="326.8" r="3.3"/><circle cx="267.7" cy="326.9" r="3.3"/><circle cx="269.0" cy="327.0" r="3.3"/><circle cx="270.3" cy="327.1" r="3.3"/><circle cx="271.6" cy="327.1" r="3.3"/><circle cx="272.9" cy="327.2" r="3.3"/><circle cx="274.2" cy="327.3" r="3.3"/><circle cx="275.5" cy="327.3" r="3.3"/><circle cx="276.8" cy="327.4" r="3.3"/><circle cx="278.1" cy="327.4" r="3.3"/><circle cx="279.4" cy="327.5" r="3.3"/><circle cx="280.8" cy="327.5" r="3.3"/><circle cx="282.1" cy="327.6" r="3.3"/><circle cx="283.4" cy="327.6" r="3.3"/><circle cx="284.7" cy="327.7" r="3.3"/><circle cx="286.0" cy="327.7" r="3.3"/><circle cx="287.3" cy="327.8" r="3.3"/><circle cx="288.6" cy="327.8" r="3.3"/><circle cx="289.9" cy="327.8" r="3.3"/><circle cx="291.2" cy="327.9" r="3.3"/><circle cx="292.5" cy="327.9" r="3.3"/><circle cx="293.8" cy="327.9" r="3.3"/><circle cx="295.1" cy="328.0" r="3.3"/><circle cx="296.4" cy="328.0" r="3.3"/><circle cx="297.7" cy="328.0" r="3.3"/><circle cx="299.0" cy="328.0" r="3.3"/><circle cx="300.3" cy="328.0" r="3.3"/><circle cx="301.6" cy="328.0" r="3.3"/><circle cx="302.9" cy="328.0" r="3.3"/><circle cx="304.2" cy="328.0" r="3.3"/><circle cx="305.5" cy="328.0" r="3.3"/><circle cx="306.8" cy="328.0" r="3.3"/><circle cx="308.1" cy="328.0" r="3.3"/><circle cx="309.4" cy="327.9" r="3.3"/><circle cx="310.7" cy="327.9" r="3.3"/><circle cx="312.0" cy="327.9" r="3.3"/><circle cx="313.3" cy="327.9" r="3.3"/><circle cx="314.6" cy="327.8" r="3.3"/><circle cx="315.9" cy="327.8" r="3.3"/><circle cx="317.2" cy="327.8" r="3.3"/><circle cx="318.5" cy="327.7" r="3.3"/><circle cx="319.8" cy="327.7" r="3.3"/><circle cx="321.1" cy="327.7" r="3.3"/><circle cx="322.4" cy="327.6" r="3.3"/><circle cx="323.7" cy="327.6" r="3.3"/><circle cx="325.0" cy="327.5" r="3.3"/><circle cx="327.0" cy="326.5" r="3.3"/><circle cx="329.0" cy="324.3" r="3.3"/><circle cx="331.0" cy="321.6" r="3.3"/><circle cx="333.0" cy="317.2" r="3.3"/><circle cx="335.0" cy="310.0" r="3.3"/><circle cx="337.0" cy="301.8" r="3.3"/><circle cx="339.0" cy="294.0" r="3.3"/><circle cx="341.0" cy="286.9" r="3.3"/><circle cx="343.0" cy="279.9" r="3.3"/><circle cx="345.0" cy="274.9" r="3.3"/><circle cx="346.9" cy="272.2" r="3.3"/><circle cx="348.9" cy="270.5" r="3.3"/><circle cx="350.9" cy="269.2" r="3.3"/><circle cx="352.9" cy="268.2" r="3.3"/><circle cx="354.9" cy="267.3" r="3.3"/><circle cx="356.9" cy="266.6" r="3.3"/><circle cx="358.9" cy="265.8" r="3.3"/><circle cx="360.9" cy="265.1" r="3.3"/><circle cx="362.9" cy="264.5" r="3.3"/><circle cx="364.9" cy="263.9" r="3.3"/><circle cx="366.9" cy="263.4" r="3.3"/><circle cx="368.9" cy="262.8" r="3.3"/><circle cx="370.9" cy="262.3" r="3.3"/><circle cx="372.9" cy="261.7" r="3.3"/><circle cx="374.9" cy="261.1" r="3.3"/><circle cx="376.9" cy="260.4" r="3.3"/><circle cx="378.9" cy="259.7" r="3.3"/><circle cx="380.9" cy="258.9" r="3.3"/><circle cx="382.9" cy="258.0" r="3.3"/><circle cx="384.9" cy="257.2" r="3.3"/><circle cx="386.9" cy="256.2" r="3.3"/><circle cx="388.9" cy="255.3" r="3.3"/><circle cx="390.9" cy="254.4" r="3.3"/><circle cx="392.8" cy="253.4" r="3.3"/><circle cx="394.8" cy="252.4" r="3.3"/><circle cx="396.8" cy="251.5" r="3.3"/><circle cx="398.8" cy="250.5" r="3.3"/><circle cx="400.8" cy="249.5" r="3.3"/><circle cx="402.8" cy="248.5" r="3.3"/><circle cx="404.8" cy="247.3" r="3.3"/><circle cx="406.8" cy="246.0" r="3.3"/><circle cx="408.8" cy="244.5" r="3.3"/><circle cx="410.8" cy="242.7" r="3.3"/><circle cx="412.8" cy="240.8" r="3.3"/><circle cx="412.8" cy="240.8" r="3.55"/><circle cx="414.3" cy="239.8" r="3.55"/><circle cx="413.7" cy="238.3" r="3.55"/><circle cx="412.5" cy="237.2" r="3.55"/><circle cx="410.9" cy="236.6" r="3.55"/><circle cx="409.2" cy="236.1" r="3.55"/><circle cx="407.6" cy="235.6" r="3.55"/><circle cx="406.0" cy="235.2" r="3.55"/><circle cx="404.3" cy="234.9" r="3.55"/><circle cx="402.7" cy="234.6" r="3.55"/><circle cx="401.0" cy="234.2" r="3.55"/><circle cx="399.4" cy="233.9" r="3.55"/><circle cx="397.7" cy="233.7" r="3.55"/><circle cx="396.0" cy="233.4" r="3.55"/><circle cx="394.4" cy="233.1" r="3.55"/><circle cx="392.8" cy="232.7" r="3.55"/><circle cx="391.1" cy="232.4" r="3.55"/><circle cx="389.5" cy="232.0" r="3.55"/><circle cx="387.9" cy="231.6" r="3.55"/><circle cx="386.2" cy="231.1" r="3.55"/><circle cx="384.6" cy="230.7" r="3.55"/><circle cx="383.0" cy="230.3" r="3.55"/><circle cx="381.4" cy="229.9" r="3.55"/><circle cx="379.7" cy="229.4" r="3.55"/><circle cx="378.1" cy="229.0" r="3.55"/><circle cx="376.5" cy="228.6" r="3.55"/><circle cx="374.9" cy="228.1" r="3.55"/><circle cx="373.2" cy="227.7" r="3.55"/><circle cx="371.6" cy="227.2" r="3.55"/><circle cx="370.0" cy="226.8" r="3.55"/><circle cx="369.0" cy="226.6" r="3.55"/><circle cx="368.0" cy="226.4" r="3.55"/><circle cx="367.0" cy="226.2" r="3.55"/><circle cx="366.0" cy="226.0" r="3.55"/><circle cx="365.1" cy="225.8" r="3.55"/><circle cx="364.1" cy="225.5" r="3.55"/><circle cx="363.1" cy="225.3" r="3.55"/><circle cx="362.1" cy="225.0" r="3.55"/><circle cx="361.2" cy="224.8" r="3.55"/><circle cx="360.2" cy="224.5" r="3.55"/><circle cx="359.3" cy="224.2" r="3.55"/><circle cx="358.3" cy="224.0" r="3.55"/><circle cx="357.3" cy="223.7" r="3.55"/><circle cx="356.4" cy="223.4" r="3.55"/><circle cx="355.4" cy="223.1" r="3.55"/><circle cx="354.5" cy="222.8" r="3.55"/><circle cx="353.5" cy="222.5" r="3.55"/><circle cx="352.6" cy="222.2" r="3.55"/><circle cx="351.6" cy="221.8" r="3.55"/><circle cx="350.7" cy="221.5" r="3.55"/><circle cx="349.8" cy="221.2" r="3.55"/><circle cx="348.8" cy="220.9" r="3.55"/><circle cx="347.9" cy="220.5" r="3.55"/><circle cx="347.0" cy="220.1" r="3.55"/><circle cx="346.0" cy="219.8" r="3.55"/><circle cx="345.1" cy="219.4" r="3.55"/><circle cx="344.2" cy="218.9" r="3.55"/><circle cx="343.3" cy="218.5" r="3.55"/><circle cx="342.4" cy="218.1" r="3.55"/><circle cx="341.5" cy="217.7" r="3.55"/><circle cx="340.6" cy="217.3" r="3.55"/><circle cx="339.7" cy="216.8" r="3.55"/><circle cx="338.8" cy="216.4" r="3.55"/><circle cx="337.8" cy="216.0" r="3.55"/><circle cx="336.9" cy="215.6" r="3.55"/><circle cx="336.0" cy="215.2" r="3.55"/><circle cx="335.1" cy="214.8" r="3.55"/><circle cx="334.2" cy="214.3" r="3.55"/><circle cx="333.3" cy="213.9" r="3.55"/><circle cx="332.4" cy="213.5" r="3.55"/><circle cx="331.5" cy="213.0" r="3.55"/><circle cx="330.6" cy="212.6" r="3.55"/><circle cx="329.7" cy="212.2" r="3.55"/><circle cx="328.8" cy="211.7" r="3.55"/><circle cx="327.9" cy="211.3" r="3.55"/><circle cx="327.0" cy="210.8" r="3.55"/><circle cx="326.2" cy="210.3" r="3.55"/><circle cx="325.3" cy="209.9" r="3.55"/><circle cx="324.4" cy="209.4" r="3.55"/><circle cx="323.5" cy="208.9" r="3.55"/><circle cx="322.7" cy="208.4" r="3.55"/><circle cx="321.8" cy="207.9" r="3.55"/><circle cx="320.9" cy="207.4" r="3.55"/><circle cx="320.1" cy="206.9" r="3.55"/><circle cx="319.2" cy="206.4" r="3.55"/><circle cx="318.3" cy="205.9" r="3.55"/><circle cx="317.5" cy="205.4" r="3.55"/><circle cx="316.6" cy="204.9" r="3.55"/><circle cx="315.7" cy="204.4" r="3.55"/><circle cx="314.9" cy="203.9" r="3.55"/><circle cx="314.0" cy="203.4" r="3.55"/><circle cx="313.1" cy="203.0" r="3.55"/><circle cx="312.2" cy="202.5" r="3.55"/><circle cx="311.3" cy="202.1" r="3.55"/><circle cx="310.4" cy="201.6" r="3.55"/><circle cx="309.5" cy="201.1" r="3.55"/><circle cx="308.6" cy="200.7" r="3.55"/><circle cx="307.7" cy="200.2" r="3.55"/><circle cx="306.8" cy="199.8" r="3.55"/><circle cx="305.9" cy="199.3" r="3.55"/><circle cx="305.1" cy="198.9" r="3.55"/><circle cx="304.2" cy="198.4" r="3.55"/><circle cx="303.3" cy="198.0" r="3.55"/><circle cx="302.4" cy="197.5" r="3.55"/><circle cx="301.5" cy="197.1" r="3.55"/><circle cx="300.6" cy="196.6" r="3.55"/><circle cx="299.7" cy="196.1" r="3.55"/><circle cx="298.9" cy="195.6" r="3.55"/><circle cx="298.0" cy="195.2" r="3.55"/><circle cx="297.1" cy="194.7" r="3.55"/><circle cx="296.3" cy="194.2" r="3.55"/><circle cx="295.4" cy="193.6" r="3.55"/><circle cx="294.6" cy="193.1" r="3.55"/><circle cx="293.7" cy="192.6" r="3.55"/><circle cx="292.9" cy="192.1" r="3.55"/><circle cx="292.0" cy="191.5" r="3.55"/><circle cx="291.2" cy="191.0" r="3.55"/><circle cx="290.3" cy="190.4" r="3.55"/><circle cx="289.5" cy="189.9" r="3.55"/><circle cx="288.7" cy="189.3" r="3.55"/><circle cx="287.8" cy="188.8" r="3.55"/><circle cx="287.0" cy="188.2" r="3.55"/><circle cx="286.2" cy="187.6" r="3.55"/><circle cx="285.4" cy="187.1" r="3.55"/><circle cx="284.5" cy="186.5" r="3.55"/><circle cx="283.7" cy="185.9" r="3.55"/><circle cx="282.9" cy="185.3" r="3.55"/><circle cx="282.1" cy="184.8" r="3.55"/><circle cx="281.3" cy="184.2" r="3.55"/><circle cx="280.5" cy="183.6" r="3.55"/><circle cx="279.7" cy="183.0" r="3.55"/><circle cx="278.9" cy="182.4" r="3.55"/><circle cx="278.1" cy="181.8" r="3.55"/><circle cx="277.3" cy="181.2" r="3.55"/><circle cx="276.5" cy="180.6" r="3.55"/><circle cx="275.7" cy="180.0" r="3.55"/><circle cx="274.9" cy="179.4" r="3.55"/><circle cx="274.1" cy="178.8" r="3.55"/><circle cx="273.3" cy="178.1" r="3.55"/><circle cx="272.5" cy="177.5" r="3.55"/><circle cx="271.8" cy="176.9" r="3.55"/><circle cx="271.0" cy="176.3" r="3.55"/><circle cx="270.2" cy="175.6" r="3.55"/><circle cx="269.4" cy="175.0" r="3.55"/><circle cx="268.6" cy="174.4" r="3.55"/><circle cx="267.9" cy="173.7" r="3.55"/><circle cx="267.1" cy="173.1" r="3.55"/><circle cx="266.3" cy="172.5" r="3.55"/><circle cx="265.6" cy="171.8" r="3.55"/><circle cx="264.8" cy="171.2" r="3.55"/><circle cx="264.1" cy="170.5" r="3.55"/><circle cx="263.3" cy="169.9" r="3.55"/><circle cx="262.5" cy="169.2" r="3.55"/><circle cx="261.8" cy="168.6" r="3.55"/><circle cx="261.0" cy="167.9" r="3.55"/><circle cx="260.3" cy="167.2" r="3.55"/><circle cx="259.5" cy="166.6" r="3.55"/><circle cx="258.8" cy="165.9" r="3.55"/><circle cx="258.0" cy="165.2" r="3.55"/><circle cx="257.3" cy="164.6" r="3.55"/><circle cx="256.5" cy="163.9" r="3.55"/><circle cx="255.8" cy="163.2" r="3.55"/><circle cx="255.1" cy="162.6" r="3.55"/><circle cx="254.3" cy="161.9" r="3.55"/><circle cx="253.6" cy="161.2" r="3.55"/><circle cx="252.8" cy="160.6" r="3.55"/><circle cx="252.1" cy="159.9" r="3.55"/><circle cx="251.4" cy="159.2" r="3.55"/><circle cx="250.6" cy="158.5" r="3.55"/><circle cx="249.9" cy="157.8" r="3.55"/><circle cx="249.2" cy="157.1" r="3.55"/><circle cx="248.5" cy="156.5" r="3.55"/><circle cx="247.7" cy="155.8" r="3.55"/><circle cx="247.0" cy="155.1" r="3.55"/><circle cx="246.3" cy="154.4" r="3.55"/><circle cx="245.5" cy="153.7" r="3.55"/><circle cx="244.8" cy="153.0" r="3.55"/><circle cx="244.1" cy="152.4" r="3.55"/><circle cx="243.3" cy="151.7" r="3.55"/><circle cx="242.6" cy="151.0" r="3.55"/><circle cx="241.9" cy="150.3" r="3.55"/><circle cx="241.1" cy="149.7" r="3.55"/><circle cx="240.4" cy="149.0" r="3.55"/><circle cx="239.6" cy="148.3" r="3.55"/><circle cx="238.9" cy="147.7" r="3.55"/><circle cx="238.1" cy="147.0" r="3.55"/><circle cx="237.4" cy="146.3" r="3.55"/><circle cx="236.6" cy="145.7" r="3.55"/><circle cx="235.9" cy="145.0" r="3.55"/><circle cx="235.1" cy="144.4" r="3.55"/><circle cx="234.4" cy="143.7" r="3.55"/><circle cx="233.6" cy="143.0" r="3.55"/><circle cx="232.9" cy="142.4" r="3.55"/><circle cx="232.1" cy="141.7" r="3.55"/><circle cx="231.4" cy="141.1" r="3.55"/><circle cx="230.6" cy="140.4" r="3.55"/><circle cx="229.8" cy="139.8" r="3.55"/><circle cx="229.1" cy="139.1" r="3.55"/><circle cx="228.3" cy="138.5" r="3.55"/><circle cx="227.5" cy="137.9" r="3.55"/><circle cx="226.8" cy="137.2" r="3.55"/><circle cx="226.0" cy="136.6" r="3.55"/><circle cx="225.2" cy="136.0" r="3.55"/><circle cx="224.4" cy="135.3" r="3.55"/><circle cx="223.7" cy="134.7" r="3.55"/><circle cx="222.9" cy="134.1" r="3.55"/><circle cx="222.1" cy="133.5" r="3.55"/><circle cx="221.3" cy="132.9" r="3.55"/><circle cx="220.5" cy="132.2" r="3.55"/><circle cx="219.7" cy="131.6" r="3.55"/><circle cx="218.9" cy="131.0" r="3.55"/><circle cx="218.2" cy="130.4" r="3.55"/><circle cx="217.4" cy="129.8" r="3.55"/><circle cx="216.6" cy="129.2" r="3.55"/><circle cx="215.8" cy="128.5" r="3.55"/><circle cx="215.0" cy="127.9" r="3.55"/><circle cx="214.2" cy="127.3" r="3.55"/><circle cx="213.4" cy="126.7" r="3.55"/><circle cx="212.6" cy="126.1" r="3.55"/><circle cx="211.8" cy="125.5" r="3.55"/><circle cx="211.0" cy="124.9" r="3.55"/><circle cx="210.3" cy="124.3" r="3.55"/><circle cx="209.5" cy="123.6" r="3.55"/><circle cx="208.7" cy="123.0" r="3.55"/><circle cx="207.9" cy="122.4" r="3.30"/><circle cx="207.1" cy="121.8" r="3.30"/><circle cx="206.3" cy="121.2" r="3.30"/><circle cx="205.5" cy="120.6" r="3.30"/><circle cx="204.7" cy="120.0" r="3.30"/><circle cx="203.9" cy="119.4" r="3.30"/></g>
<g font-size="14.3"><text x="177.4" y="52.7">x<tspan dx="-0.5"> =</tspan><tspan dx="0.9" textLength="22.6" lengthAdjust="spacingAndGlyphs"> 0.1</tspan></text><text x="69.3" y="107.2">x<tspan dx="-0.5"> =</tspan><tspan dx="0.9" textLength="22.6" lengthAdjust="spacingAndGlyphs"> 0.6</tspan></text><text x="69.3" y="164.5">x<tspan dx="-0.5"> =</tspan><tspan dx="0.9" textLength="22.6" lengthAdjust="spacingAndGlyphs"> 0.7</tspan></text><text x="69.3" y="225.8">x<tspan dx="-0.5"> =</tspan><tspan dx="0.9" textLength="22.6" lengthAdjust="spacingAndGlyphs"> 0.8</tspan></text><text x="77" y="301.8">x<tspan dx="-0.5"> =</tspan><tspan dx="0.9" textLength="22.6" lengthAdjust="spacingAndGlyphs"> 0.9</tspan></text><text x="383.3" y="306.5">x<tspan dx="-0.5"> =</tspan><tspan dx="0.9" textLength="22.6" lengthAdjust="spacingAndGlyphs"> 0.2</tspan></text><text x="383.3" y="333.9">x<tspan dx="-0.5"> =</tspan><tspan dx="0.9" textLength="22.6" lengthAdjust="spacingAndGlyphs"> 0.3</tspan></text><text x="383.3" y="352.4">x<tspan dx="-0.5"> =</tspan><tspan dx="0.9" textLength="22.6" lengthAdjust="spacingAndGlyphs"> 0.4</tspan></text><text x="303.2" y="378.4">x<tspan dx="-0.5"> =</tspan><tspan dx="0.9" textLength="22.6" lengthAdjust="spacingAndGlyphs"> 0.5</tspan></text></g>
<line x1="170.5" y1="53.7" x2="155.9" y2="61.8" stroke="#666" stroke-width="1"/><path d="M151.5 64.2L155.5 59.0L158.0 63.6Z" fill="#000"/><line x1="85.0" y1="89.5" x2="103.3" y2="89.5" stroke="#666" stroke-width="1"/><path d="M108.0 89.5L102.3 91.9L102.3 87.1Z" fill="#000"/><line x1="68.2" y1="147.0" x2="86.2" y2="147.0" stroke="#666" stroke-width="1"/><path d="M90.9 147.0L85.2 149.4L85.2 144.6Z" fill="#000"/><line x1="68.2" y1="207.5" x2="86.2" y2="207.5" stroke="#666" stroke-width="1"/><path d="M90.9 207.5L85.2 209.9L85.2 205.1Z" fill="#000"/><line x1="83.0" y1="284.5" x2="101.3" y2="284.5" stroke="#666" stroke-width="1"/><path d="M106.0 284.5L100.3 286.9L100.3 282.1Z" fill="#000"/><line x1="318.3" y1="367.5" x2="318.3" y2="362.1" stroke="#666" stroke-width="1"/><path d="M318.3 357.4L320.7 363.1L315.9 363.1Z" fill="#000"/><line x1="298.1" y1="174.6" x2="252.4" y2="140.4" stroke="#000" stroke-width="1.3"/><path d="M247.6 136.8L255.0 138.6L251.4 143.4Z" fill="#000"/><line x1="318.5" y1="306.0" x2="333.2" y2="278.1" stroke="#000" stroke-width="1.3"/><path d="M336.0 272.8L335.4 280.4L330.1 277.6Z" fill="#000"/>
</svg>
</body></html>
